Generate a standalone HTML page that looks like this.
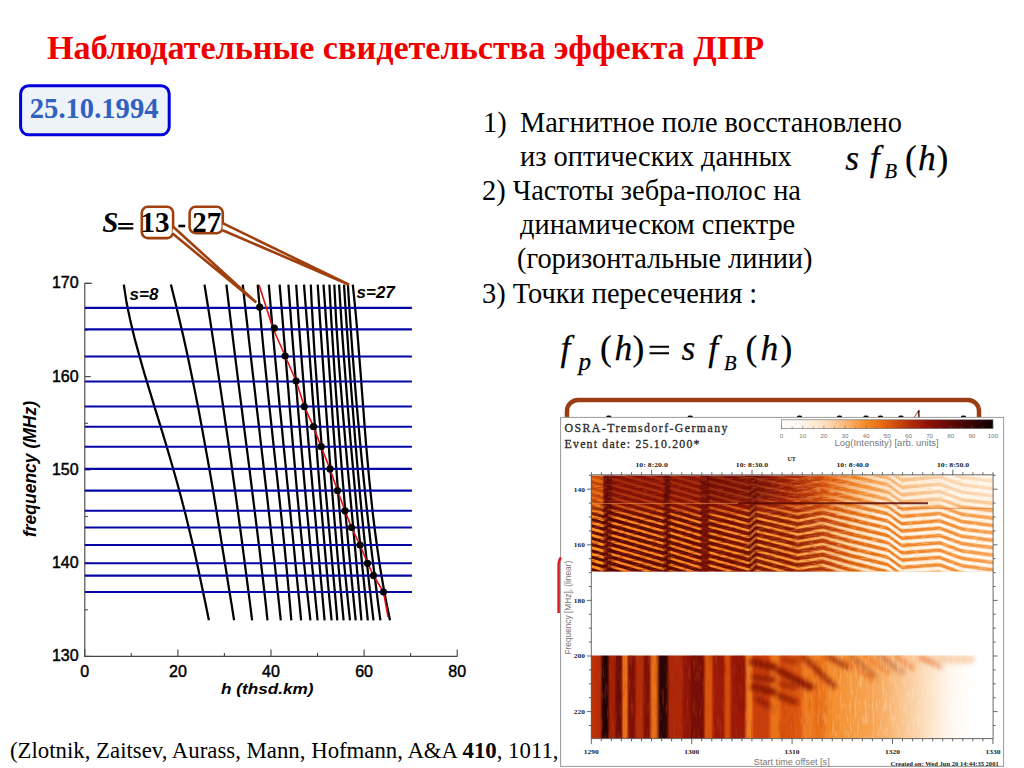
<!DOCTYPE html><html><head><meta charset="utf-8"><style>html,body{margin:0;padding:0;background:#fff;width:1024px;height:768px;overflow:hidden}svg{display:block}</style></head><body>
<svg width="1024" height="768" viewBox="0 0 1024 768">
<text x="47" y="58.7" font-family="Liberation Serif" font-weight="bold" font-size="34.17" fill="#ee0000">Наблюдательные свидетельства эффекта ДПР</text>
<rect x="20.6" y="85.8" width="148.6" height="49" rx="8" fill="#eef3fa" stroke="#0000dd" stroke-width="3"/>
<text x="29.8" y="118.4" font-family="Liberation Serif" font-weight="bold" font-size="28.6" fill="#3060c0">25.10.1994</text>
<text x="483" y="131.8" font-family="Liberation Serif" font-size="28.4" fill="#000">1)</text>
<text x="520" y="131.8" font-family="Liberation Serif" font-size="28.4" fill="#000">Магнитное поле восстановлено</text>
<text x="520" y="166" font-family="Liberation Serif" font-size="28.4" fill="#000">из оптических данных</text>
<text x="482" y="200.2" font-family="Liberation Serif" font-size="28.4" fill="#000">2) Частоты зебра-полос на</text>
<text x="520" y="234" font-family="Liberation Serif" font-size="28.4" fill="#000">динамическом спектре</text>
<text x="517" y="268.3" font-family="Liberation Serif" font-size="28.4" fill="#000">(горизонтальные линии)</text>
<text x="482" y="302.5" font-family="Liberation Serif" font-size="28.4" fill="#000">3) Точки пересечения :</text>
<text x="845.3" y="169.8" font-family="Liberation Serif" font-style="italic" fill="#000" stroke="#000" stroke-width="0.25" font-size="35.5">s</text>
<text x="869.7" y="169.8" font-family="Liberation Serif" font-style="italic" fill="#000" stroke="#000" stroke-width="0.25" font-size="35.5">f</text>
<text x="884.5" y="178.2" font-family="Liberation Serif" font-style="italic" fill="#000" stroke="#000" stroke-width="0.25" font-size="20.5">B</text>
<text x="904.9" y="169.8" font-family="Liberation Serif" fill="#000" stroke="#000" stroke-width="0.2" font-size="35.5">(</text>
<text x="917.9" y="169.8" font-family="Liberation Serif" font-style="italic" fill="#000" stroke="#000" stroke-width="0.25" font-size="35.5">h</text>
<text x="936.5" y="169.8" font-family="Liberation Serif" fill="#000" stroke="#000" stroke-width="0.2" font-size="35.5">)</text>
<text x="560.5" y="360" font-family="Liberation Serif" font-style="italic" fill="#000" stroke="#000" stroke-width="0.25" font-size="35.5">f</text>
<text x="578.4" y="370.3" font-family="Liberation Serif" font-style="italic" fill="#000" stroke="#000" stroke-width="0.25" font-size="25">p</text>
<text x="600" y="360" font-family="Liberation Serif" fill="#000" stroke="#000" stroke-width="0.2" font-size="35.5">(</text>
<text x="614.4" y="360" font-family="Liberation Serif" font-style="italic" fill="#000" stroke="#000" stroke-width="0.25" font-size="35.5">h</text>
<text x="632.6" y="360" font-family="Liberation Serif" fill="#000" stroke="#000" stroke-width="0.2" font-size="35.5">)</text>
<path d="M649.6 346.8H669M649.6 353.2H669" stroke="#000" stroke-width="2"/>
<text x="681.4" y="359.7" font-family="Liberation Serif" font-style="italic" fill="#000" stroke="#000" stroke-width="0.25" font-size="35.5">s</text>
<text x="708.3" y="360" font-family="Liberation Serif" font-style="italic" fill="#000" stroke="#000" stroke-width="0.25" font-size="35.5">f</text>
<text x="724" y="370" font-family="Liberation Serif" font-style="italic" fill="#000" stroke="#000" stroke-width="0.25" font-size="20.5">B</text>
<text x="745.5" y="360" font-family="Liberation Serif" fill="#000" stroke="#000" stroke-width="0.2" font-size="35.5">(</text>
<text x="760.5" y="360" font-family="Liberation Serif" font-style="italic" fill="#000" stroke="#000" stroke-width="0.25" font-size="35.5">h</text>
<text x="780.5" y="360" font-family="Liberation Serif" fill="#000" stroke="#000" stroke-width="0.2" font-size="35.5">)</text>
<text x="10" y="757.5" font-family="Liberation Serif" font-size="22.8" fill="#000">(Zlotnik, Zaitsev, Aurass, Mann, Hofmann, A&amp;A <tspan font-weight="bold">410</tspan>, 1011,</text>
<g stroke="#444" stroke-width="1.1" fill="none">
<path d="M91.8,283.4 H84.8 V656.4 H457.3"/>
<path d="M84.8,656.4 h6"/>
<path d="M84.8,609.8 h3"/>
<path d="M84.8,563.1 h6"/>
<path d="M84.8,516.5 h3"/>
<path d="M84.8,469.9 h6"/>
<path d="M84.8,423.3 h3"/>
<path d="M84.8,376.6 h6"/>
<path d="M84.8,330.0 h3"/>
<path d="M84.8,283.4 h6"/>
<path d="M84.8,656.4 v-7"/>
<path d="M131.3,656.4 v-3.5"/>
<path d="M177.9,656.4 v-7"/>
<path d="M224.4,656.4 v-3.5"/>
<path d="M271.0,656.4 v-7"/>
<path d="M317.5,656.4 v-3.5"/>
<path d="M364.1,656.4 v-7"/>
<path d="M410.6,656.4 v-3.5"/>
<path d="M457.2,656.4 v-7"/>
</g>
<text x="78.6" y="661.4" text-anchor="end" font-family="Liberation Sans" font-size="16" fill="#000" stroke="#000" stroke-width="0.45">130</text>
<text x="78.6" y="568.1" text-anchor="end" font-family="Liberation Sans" font-size="16" fill="#000" stroke="#000" stroke-width="0.45">140</text>
<text x="78.6" y="474.9" text-anchor="end" font-family="Liberation Sans" font-size="16" fill="#000" stroke="#000" stroke-width="0.45">150</text>
<text x="78.6" y="381.6" text-anchor="end" font-family="Liberation Sans" font-size="16" fill="#000" stroke="#000" stroke-width="0.45">160</text>
<text x="78.6" y="288.4" text-anchor="end" font-family="Liberation Sans" font-size="16" fill="#000" stroke="#000" stroke-width="0.45">170</text>
<text x="84.8" y="676.6" text-anchor="middle" font-family="Liberation Sans" font-size="16" fill="#000" stroke="#000" stroke-width="0.45">0</text>
<text x="177.9" y="676.6" text-anchor="middle" font-family="Liberation Sans" font-size="16" fill="#000" stroke="#000" stroke-width="0.45">20</text>
<text x="271.0" y="676.6" text-anchor="middle" font-family="Liberation Sans" font-size="16" fill="#000" stroke="#000" stroke-width="0.45">40</text>
<text x="364.1" y="676.6" text-anchor="middle" font-family="Liberation Sans" font-size="16" fill="#000" stroke="#000" stroke-width="0.45">60</text>
<text x="457.2" y="676.6" text-anchor="middle" font-family="Liberation Sans" font-size="16" fill="#000" stroke="#000" stroke-width="0.45">80</text>
<text x="221" y="694" textLength="92.5" lengthAdjust="spacingAndGlyphs" font-family="Liberation Sans" font-weight="bold" font-style="italic" font-size="15.5" fill="#000">h (thsd.km)</text>
<text transform="translate(35.5,469) rotate(-90)" x="0" y="0" text-anchor="middle" font-family="Liberation Sans" font-weight="bold" font-style="italic" font-size="17.5" fill="#000">frequency (MHz)</text>
<g stroke="#000" stroke-width="2.25" fill="none" stroke-linecap="butt">
<path d="M123.8,284.6 L126.5,302.3 L130.2,319.9 L134.4,337.6 L139.2,355.3 L144.2,372.9 L149.6,390.6 L155.0,408.3 L160.4,425.9 L165.8,443.6 L171.0,461.3 L176.1,479.0 L180.9,496.6 L185.5,514.3 L189.8,532.0 L194.0,549.6 L197.9,567.3 L201.6,585.0 L205.3,602.6 L208.9,620.3"/>
<path d="M170.9,284.6 L175.3,302.3 L179.5,319.9 L183.6,337.6 L187.5,355.3 L191.2,372.9 L194.8,390.6 L198.3,408.3 L201.6,425.9 L204.8,443.6 L208.0,461.3 L211.1,479.0 L214.1,496.6 L217.0,514.3 L219.9,532.0 L222.7,549.6 L225.6,567.3 L228.4,585.0 L231.3,602.6 L234.1,620.3"/>
<path d="M204.5,284.6 L207.3,302.3 L210.1,319.9 L212.8,337.6 L215.5,355.3 L218.1,372.9 L220.8,390.6 L223.4,408.3 L225.9,425.9 L228.5,443.6 L231.0,461.3 L233.4,479.0 L235.9,496.6 L238.3,514.3 L240.7,532.0 L243.0,549.6 L245.3,567.3 L247.6,585.0 L249.9,602.6 L252.1,620.3"/>
<path d="M226.4,284.6 L228.5,302.3 L230.6,319.9 L232.8,337.6 L235.0,355.3 L237.2,372.9 L239.4,390.6 L241.7,408.3 L243.9,425.9 L246.2,443.6 L248.5,461.3 L250.7,479.0 L252.9,496.6 L255.1,514.3 L257.3,532.0 L259.5,549.6 L261.5,567.3 L263.6,585.0 L265.6,602.6 L267.5,620.3"/>
<path d="M242.8,284.6 L244.7,302.3 L246.7,319.9 L248.7,337.6 L250.7,355.3 L252.7,372.9 L254.8,390.6 L256.8,408.3 L258.9,425.9 L260.9,443.6 L263.0,461.3 L265.0,479.0 L267.1,496.6 L269.1,514.3 L271.1,532.0 L273.1,549.6 L275.1,567.3 L277.0,585.0 L278.9,602.6 L280.8,620.3"/>
<path d="M257.7,284.6 L259.2,302.3 L260.7,319.9 L262.4,337.6 L264.1,355.3 L265.9,372.9 L267.7,390.6 L269.6,408.3 L271.5,425.9 L273.4,443.6 L275.3,461.3 L277.3,479.0 L279.2,496.6 L281.1,514.3 L283.0,532.0 L284.8,549.6 L286.5,567.3 L288.2,585.0 L289.8,602.6 L291.3,620.3"/>
<path d="M268.8,284.6 L270.3,302.3 L271.8,319.9 L273.3,337.6 L274.9,355.3 L276.6,372.9 L278.2,390.6 L279.9,408.3 L281.7,425.9 L283.4,443.6 L285.2,461.3 L286.9,479.0 L288.7,496.6 L290.5,514.3 L292.3,532.0 L294.1,549.6 L295.8,567.3 L297.6,585.0 L299.4,602.6 L301.1,620.3"/>
<path d="M279.6,284.6 L281.1,302.3 L282.6,319.9 L284.0,337.6 L285.5,355.3 L286.9,372.9 L288.4,390.6 L289.8,408.3 L291.3,425.9 L292.8,443.6 L294.4,461.3 L295.9,479.0 L297.5,496.6 L299.2,514.3 L300.9,532.0 L302.7,549.6 L304.5,567.3 L306.4,585.0 L308.4,602.6 L310.4,620.3"/>
<path d="M288.4,284.6 L289.7,302.3 L291.0,319.9 L292.4,337.6 L293.8,355.3 L295.2,372.9 L296.6,390.6 L298.0,408.3 L299.5,425.9 L301.0,443.6 L302.6,461.3 L304.1,479.0 L305.7,496.6 L307.3,514.3 L309.0,532.0 L310.6,549.6 L312.3,567.3 L314.1,585.0 L315.8,602.6 L317.6,620.3"/>
<path d="M296.2,284.6 L297.4,302.3 L298.6,319.9 L299.9,337.6 L301.3,355.3 L302.7,372.9 L304.1,390.6 L305.6,408.3 L307.1,425.9 L308.6,443.6 L310.2,461.3 L311.8,479.0 L313.4,496.6 L315.0,514.3 L316.6,532.0 L318.2,549.6 L319.8,567.3 L321.4,585.0 L323.0,602.6 L324.6,620.3"/>
<path d="M304.0,284.6 L305.4,302.3 L306.8,319.9 L308.2,337.6 L309.6,355.3 L310.9,372.9 L312.2,390.6 L313.6,408.3 L314.9,425.9 L316.3,443.6 L317.6,461.3 L319.0,479.0 L320.4,496.6 L321.9,514.3 L323.4,532.0 L324.9,549.6 L326.5,567.3 L328.1,585.0 L329.8,602.6 L331.6,620.3"/>
<path d="M310.8,284.6 L311.6,302.3 L312.6,319.9 L313.6,337.6 L314.7,355.3 L316.0,372.9 L317.3,390.6 L318.6,408.3 L320.1,425.9 L321.5,443.6 L323.1,461.3 L324.6,479.0 L326.2,496.6 L327.8,514.3 L329.4,532.0 L331.0,549.6 L332.6,567.3 L334.2,585.0 L335.8,602.6 L337.3,620.3"/>
<path d="M317.7,284.6 L318.9,302.3 L320.0,319.9 L321.2,337.6 L322.4,355.3 L323.6,372.9 L324.8,390.6 L326.0,408.3 L327.3,425.9 L328.6,443.6 L329.9,461.3 L331.2,479.0 L332.6,496.6 L334.0,514.3 L335.5,532.0 L337.0,549.6 L338.6,567.3 L340.2,585.0 L341.9,602.6 L343.6,620.3"/>
<path d="M323.5,284.6 L324.8,302.3 L326.0,319.9 L327.2,337.6 L328.4,355.3 L329.6,372.9 L330.8,390.6 L332.0,408.3 L333.2,425.9 L334.5,443.6 L335.8,461.3 L337.1,479.0 L338.4,496.6 L339.9,514.3 L341.4,532.0 L342.9,549.6 L344.5,567.3 L346.3,585.0 L348.1,602.6 L350.0,620.3"/>
<path d="M329.4,284.6 L330.3,302.3 L331.3,319.9 L332.4,337.6 L333.5,355.3 L334.6,372.9 L335.8,390.6 L337.1,408.3 L338.4,425.9 L339.8,443.6 L341.2,461.3 L342.6,479.0 L344.1,496.6 L345.6,514.3 L347.2,532.0 L348.8,549.6 L350.5,567.3 L352.2,585.0 L353.9,602.6 L355.7,620.3"/>
<path d="M334.3,284.6 L335.2,302.3 L336.1,319.9 L337.2,337.6 L338.4,355.3 L339.7,372.9 L341.1,390.6 L342.5,408.3 L344.0,425.9 L345.5,443.6 L347.1,461.3 L348.7,479.0 L350.3,496.6 L352.0,514.3 L353.6,532.0 L355.2,549.6 L356.8,567.3 L358.4,585.0 L359.9,602.6 L361.4,620.3"/>
<path d="M339.1,284.6 L340.2,302.3 L341.3,319.9 L342.5,337.6 L343.8,355.3 L345.1,372.9 L346.5,390.6 L347.9,408.3 L349.3,425.9 L350.8,443.6 L352.4,461.3 L354.0,479.0 L355.6,496.6 L357.2,514.3 L358.9,532.0 L360.7,549.6 L362.4,567.3 L364.2,585.0 L366.0,602.6 L367.8,620.3"/>
<path d="M344.0,284.6 L345.1,302.3 L346.3,319.9 L347.5,337.6 L348.7,355.3 L350.0,372.9 L351.3,390.6 L352.7,408.3 L354.1,425.9 L355.5,443.6 L357.0,461.3 L358.6,479.0 L360.2,496.6 L361.9,514.3 L363.7,532.0 L365.5,549.6 L367.4,567.3 L369.3,585.0 L371.4,602.6 L373.5,620.3"/>
<path d="M347.9,284.6 L349.0,302.3 L350.2,319.9 L351.4,337.6 L352.7,355.3 L354.1,372.9 L355.5,390.6 L357.0,408.3 L358.6,425.9 L360.2,443.6 L361.9,461.3 L363.7,479.0 L365.5,496.6 L367.4,514.3 L369.4,532.0 L371.4,549.6 L373.6,567.3 L375.8,585.0 L378.0,602.6 L380.4,620.3"/>
<path d="M352.8,284.6 L354.6,302.3 L356.3,319.9 L357.8,337.6 L359.2,355.3 L360.6,372.9 L361.9,390.6 L363.3,408.3 L364.6,425.9 L366.0,443.6 L367.6,461.3 L369.2,479.0 L371.0,496.6 L372.9,514.3 L375.1,532.0 L377.5,549.6 L380.1,567.3 L383.1,585.0 L386.4,602.6 L390.0,620.3"/>
</g>
<g stroke="#0606a6" stroke-width="2.1">
<path d="M84.8,307.9 H411.9"/>
<path d="M84.8,329.4 H411.9"/>
<path d="M84.8,356.5 H411.9"/>
<path d="M84.8,381.5 H411.9"/>
<path d="M84.8,406.5 H411.9"/>
<path d="M84.8,426.7 H411.9"/>
<path d="M84.8,446.7 H411.9"/>
<path d="M84.8,468.9 H411.9"/>
<path d="M84.8,490.6 H411.9"/>
<path d="M84.8,510.8 H411.9"/>
<path d="M84.8,527.5 H411.9"/>
<path d="M84.8,545 H411.9"/>
<path d="M84.8,563.3 H411.9"/>
<path d="M84.8,575.6 H411.9"/>
<path d="M84.8,592 H411.9"/>
</g>
<path d="M259.1,284.9 L272.8,328 L285.2,356 L296.1,381 L304.4,406.6 L313.5,426.6 L321,446.6 L330,469 L337.5,490.4 L345,510.6 L351.5,527.5 L360,545 L367.5,563 L373.5,575.5 L383.5,592 L388,617" stroke="#e01010" stroke-width="1.6" fill="none"/>
<g fill="#000">
<circle cx="259.7" cy="307.2" r="3.6"/>
<circle cx="274.3" cy="328.1" r="3.6"/>
<circle cx="285.2" cy="356" r="3.6"/>
<circle cx="296.1" cy="381" r="3.6"/>
<circle cx="304.3" cy="406.6" r="3.6"/>
<circle cx="313.5" cy="426.7" r="3.6"/>
<circle cx="321.2" cy="446.7" r="3.6"/>
<circle cx="330" cy="468.9" r="3.6"/>
<circle cx="337.5" cy="490.6" r="3.6"/>
<circle cx="345" cy="510.8" r="3.6"/>
<circle cx="351.5" cy="527.5" r="3.6"/>
<circle cx="360" cy="545" r="3.6"/>
<circle cx="367.5" cy="563.3" r="3.6"/>
<circle cx="373.5" cy="575.6" r="3.6"/>
<circle cx="383.5" cy="592" r="3.6"/>
</g>
<text x="129.5" y="299.5" font-family="Liberation Sans" font-weight="bold" font-style="italic" font-size="17" fill="#000">s=8</text>
<text x="356.5" y="297.5" font-family="Liberation Sans" font-weight="bold" font-style="italic" font-size="17" fill="#000">s=27</text>
<text x="102.2" y="231.8" font-family="Liberation Serif" font-weight="bold" font-style="italic" font-size="29" fill="#000">S</text>
<path d="M118.2 224H133.3M118.2 228.4H133.3" stroke="#000" stroke-width="2.2"/>
<path d="M178.4 226H185.2" stroke="#000" stroke-width="2.6"/>
<rect x="141.8" y="206.8" width="31.3" height="31.3" rx="6" fill="#fff" stroke="#a0400f" stroke-width="2.6"/>
<rect x="189.6" y="206.8" width="33.2" height="26.4" rx="6" fill="#fff" stroke="#a0400f" stroke-width="2.6"/>
<text x="140.6" y="231.8" font-family="Liberation Serif" font-weight="bold" font-size="29" fill="#000">13</text>
<text x="192.2" y="231.8" font-family="Liberation Serif" font-weight="bold" font-size="29" fill="#000">27</text>
<path d="M173.1,226.7 L256.2,302.4 L172.3,233.3" fill="#fff" stroke="#a0400f" stroke-width="2.6" stroke-linejoin="miter"/>
<path d="M222.6,223.2 L349.2,284.7 L222.6,230.2" fill="#fff" stroke="#a0400f" stroke-width="2.6" stroke-linejoin="miter"/>
<path d="M567,417 V411 a11,11 0 0 1 11,-11 H968 a11,11 0 0 1 11,11 V417" fill="none" stroke="#9b3d12" stroke-width="4.5"/>
<g fill="#000"><ellipse cx="608.8" cy="416.6" rx="2.6" ry="1.2"/><ellipse cx="690.2" cy="416.6" rx="2.6" ry="1.2"/><ellipse cx="799.5" cy="416.6" rx="2.6" ry="1.2"/><ellipse cx="839.5" cy="416.6" rx="2.6" ry="1.2"/><ellipse cx="866.0" cy="416.6" rx="2.6" ry="1.2"/><ellipse cx="880.5" cy="416.6" rx="2.6" ry="1.2"/><ellipse cx="901.0" cy="416.6" rx="2.6" ry="1.2"/><ellipse cx="963.5" cy="416.6" rx="2.6" ry="1.2"/></g>
<text x="913.5" y="420" font-family="Liberation Serif" font-size="15" fill="#000">4</text>
<rect x="560.6" y="417.4" width="443" height="349" fill="#fff" stroke="#999" stroke-width="1"/>
<path d="M561 557.5 Q558.6 560 558.6 566 V612.9" stroke="#e02020" stroke-width="2.6" fill="none"/>
<defs><linearGradient id="tlo" gradientUnits="userSpaceOnUse" x1="591.3" y1="0" x2="993.0" y2="0"><stop offset="0.0000" stop-color="#e96f16"/><stop offset="0.0266" stop-color="#e96f16"/><stop offset="0.0341" stop-color="#7a0f06"/><stop offset="0.0515" stop-color="#7a0f06"/><stop offset="0.0615" stop-color="#a42007"/><stop offset="0.1113" stop-color="#a42007"/><stop offset="0.1212" stop-color="#961606"/><stop offset="0.1312" stop-color="#a42007"/><stop offset="0.1760" stop-color="#9f1c06"/><stop offset="0.1884" stop-color="#710c06"/><stop offset="0.2009" stop-color="#9f1c06"/><stop offset="0.2706" stop-color="#9f1c06"/><stop offset="0.2830" stop-color="#8d1406"/><stop offset="0.3005" stop-color="#9f1c06"/><stop offset="0.3826" stop-color="#9f1c06"/><stop offset="0.4000" stop-color="#8d1406"/><stop offset="0.4200" stop-color="#a82307"/><stop offset="0.5195" stop-color="#ca3f09"/><stop offset="0.5693" stop-color="#de590d"/><stop offset="0.6440" stop-color="#f18423"/><stop offset="0.7187" stop-color="#f7a758"/><stop offset="0.8183" stop-color="#fac086"/><stop offset="1.0000" stop-color="#fbcfa2"/></linearGradient><linearGradient id="thi" gradientUnits="userSpaceOnUse" x1="591.3" y1="0" x2="993.0" y2="0"><stop offset="0.0000" stop-color="#e4620e"/><stop offset="0.0266" stop-color="#e4620e"/><stop offset="0.0341" stop-color="#7a0f06"/><stop offset="0.0515" stop-color="#7a0f06"/><stop offset="0.0615" stop-color="#911506"/><stop offset="0.1760" stop-color="#911506"/><stop offset="0.1884" stop-color="#710c06"/><stop offset="0.2009" stop-color="#911506"/><stop offset="0.2706" stop-color="#911506"/><stop offset="0.2955" stop-color="#7a0f06"/><stop offset="0.4200" stop-color="#7a0f06"/><stop offset="0.4946" stop-color="#a82307"/><stop offset="0.5942" stop-color="#e4620e"/><stop offset="0.6689" stop-color="#f59538"/><stop offset="0.7685" stop-color="#facc9b"/><stop offset="0.8930" stop-color="#fde8d0"/><stop offset="1.0000" stop-color="#fef1e3"/></linearGradient><linearGradient id="tmid" gradientUnits="userSpaceOnUse" x1="591.3" y1="0" x2="993.0" y2="0"><stop offset="0.0000" stop-color="#e66812"/><stop offset="0.0266" stop-color="#e66812"/><stop offset="0.0341" stop-color="#7a0f06"/><stop offset="0.0515" stop-color="#7a0f06"/><stop offset="0.0615" stop-color="#9b1906"/><stop offset="0.1113" stop-color="#9b1906"/><stop offset="0.1212" stop-color="#941506"/><stop offset="0.1312" stop-color="#9b1906"/><stop offset="0.1760" stop-color="#981806"/><stop offset="0.1884" stop-color="#710c06"/><stop offset="0.2009" stop-color="#981806"/><stop offset="0.2706" stop-color="#981806"/><stop offset="0.2830" stop-color="#891306"/><stop offset="0.3005" stop-color="#8d1406"/><stop offset="0.3826" stop-color="#8d1406"/><stop offset="0.4000" stop-color="#841106"/><stop offset="0.4200" stop-color="#911506"/><stop offset="0.5195" stop-color="#c43608"/><stop offset="0.5693" stop-color="#da550c"/><stop offset="0.6440" stop-color="#f18423"/><stop offset="0.7187" stop-color="#f8ad62"/><stop offset="0.8183" stop-color="#fbcd9d"/><stop offset="1.0000" stop-color="#fce3c7"/></linearGradient><linearGradient id="bot" gradientUnits="userSpaceOnUse" x1="591.3" y1="0" x2="993.0" y2="0"><stop offset="0.0000" stop-color="#bf3308"/><stop offset="0.0217" stop-color="#b62c07"/><stop offset="0.0291" stop-color="#250202"/><stop offset="0.0391" stop-color="#250202"/><stop offset="0.0466" stop-color="#a42007"/><stop offset="0.0565" stop-color="#a42007"/><stop offset="0.0640" stop-color="#6d0b06"/><stop offset="0.0739" stop-color="#6d0b06"/><stop offset="0.0802" stop-color="#e96f16"/><stop offset="0.0876" stop-color="#e96f16"/><stop offset="0.0939" stop-color="#7f1006"/><stop offset="0.1063" stop-color="#7f1006"/><stop offset="0.1138" stop-color="#b62c07"/><stop offset="0.1262" stop-color="#b62c07"/><stop offset="0.1337" stop-color="#7f1006"/><stop offset="0.1436" stop-color="#7f1006"/><stop offset="0.1511" stop-color="#e96f16"/><stop offset="0.1611" stop-color="#e96f16"/><stop offset="0.1710" stop-color="#2d0303"/><stop offset="0.1860" stop-color="#2d0303"/><stop offset="0.1959" stop-color="#ad2607"/><stop offset="0.2233" stop-color="#ad2607"/><stop offset="0.2308" stop-color="#911506"/><stop offset="0.2432" stop-color="#911506"/><stop offset="0.2507" stop-color="#760e06"/><stop offset="0.2781" stop-color="#760e06"/><stop offset="0.2855" stop-color="#da550c"/><stop offset="0.2980" stop-color="#da550c"/><stop offset="0.3055" stop-color="#9b1906"/><stop offset="0.3279" stop-color="#9b1906"/><stop offset="0.3353" stop-color="#d44c0b"/><stop offset="0.3428" stop-color="#d44c0b"/><stop offset="0.3503" stop-color="#9b1906"/><stop offset="0.3801" stop-color="#9b1906"/><stop offset="0.3876" stop-color="#ee7b1e"/><stop offset="0.3976" stop-color="#ee7b1e"/><stop offset="0.4050" stop-color="#ca3f09"/><stop offset="0.4399" stop-color="#ca3f09"/><stop offset="0.4498" stop-color="#ea7318"/><stop offset="0.4648" stop-color="#ea7318"/><stop offset="0.4747" stop-color="#d7500c"/><stop offset="0.5195" stop-color="#de590d"/><stop offset="0.5295" stop-color="#ee7b1e"/><stop offset="0.5494" stop-color="#ee7b1e"/><stop offset="0.5594" stop-color="#e96f16"/><stop offset="0.5743" stop-color="#ea7318"/><stop offset="0.5942" stop-color="#f48c28"/><stop offset="0.6440" stop-color="#f69a40"/><stop offset="0.6938" stop-color="#f6a250"/><stop offset="0.7311" stop-color="#f8b068"/><stop offset="0.7809" stop-color="#fac894"/><stop offset="0.8307" stop-color="#fcdebe"/><stop offset="0.8681" stop-color="#fdefde"/><stop offset="0.8979" stop-color="#fef9f2"/><stop offset="0.9228" stop-color="#fffcf9"/><stop offset="0.9427" stop-color="#ffffff"/><stop offset="1.0000" stop-color="#ffffff"/></linearGradient><linearGradient id="sdark" gradientUnits="userSpaceOnUse" x1="591.3" y1="0" x2="993.0" y2="0"><stop offset="-0.0007" stop-color="#4a0604"/><stop offset="0.2706" stop-color="#5a0a04"/><stop offset="0.4946" stop-color="#7a1806"/><stop offset="0.5942" stop-color="#b83e0a"/><stop offset="0.6689" stop-color="#e06a14"/><stop offset="0.7685" stop-color="#ec7c22"/><stop offset="0.8930" stop-color="#f08a30"/><stop offset="1.0000" stop-color="#f49a48"/></linearGradient><linearGradient id="sbright" gradientUnits="userSpaceOnUse" x1="591.3" y1="0" x2="993.0" y2="0"><stop offset="-0.0007" stop-color="#ff9424"/><stop offset="0.2706" stop-color="#ff9424"/><stop offset="0.4946" stop-color="#fca038"/><stop offset="0.5942" stop-color="#fcc080"/><stop offset="0.6689" stop-color="#fde0c0"/><stop offset="0.7685" stop-color="#fff2e6"/><stop offset="0.8930" stop-color="#fffcf8"/><stop offset="1.0000" stop-color="#ffffff"/></linearGradient><filter id="nzd" x="0" y="0" width="100%" height="100%" filterUnits="userSpaceOnUse"><feTurbulence type="fractalNoise" baseFrequency="0.12 0.55" numOctaves="2" seed="5"/><feColorMatrix type="matrix" values="0 0 0 0 0.35  0 0 0 0 0.03  0 0 0 0 0.01  4 0 0 0 -2.0"/></filter><filter id="nzl" x="0" y="0" width="100%" height="100%" filterUnits="userSpaceOnUse"><feTurbulence type="fractalNoise" baseFrequency="0.14 0.6" numOctaves="2" seed="11"/><feColorMatrix type="matrix" values="0 0 0 0 1  0 0 0 0 0.65  0 0 0 0 0.3  4 0 0 0 -2.0"/></filter><filter id="nzb" x="0" y="0" width="100%" height="100%" filterUnits="userSpaceOnUse"><feTurbulence type="fractalNoise" baseFrequency="0.45 0.06" numOctaves="2" seed="21"/><feColorMatrix type="matrix" values="0 0 0 0 0.45  0 0 0 0 0.05  0 0 0 0 0.02  4 0 0 0 -2.1"/></filter><filter id="nzbl" x="0" y="0" width="100%" height="100%" filterUnits="userSpaceOnUse"><feTurbulence type="fractalNoise" baseFrequency="0.4 0.08" numOctaves="2" seed="33"/><feColorMatrix type="matrix" values="0 0 0 0 1  0 0 0 0 0.85  0 0 0 0 0.7  4 0 0 0 -2.0"/></filter><linearGradient id="nzmb" gradientUnits="userSpaceOnUse" x1="591.3" y1="0" x2="993.0" y2="0"><stop offset="-0.0007" stop-color="#fff"/><stop offset="0.4698" stop-color="#fff"/><stop offset="0.6689" stop-color="#000"/><stop offset="1.0000" stop-color="#000"/></linearGradient><linearGradient id="nzmbl" gradientUnits="userSpaceOnUse" x1="591.3" y1="0" x2="993.0" y2="0"><stop offset="-0.0007" stop-color="#000"/><stop offset="0.4698" stop-color="#000"/><stop offset="0.6689" stop-color="#fff"/><stop offset="0.9178" stop-color="#fff"/><stop offset="0.9676" stop-color="#000"/><stop offset="1.0000" stop-color="#000"/></linearGradient><mask id="mnzb" maskUnits="userSpaceOnUse"><rect x="591.3" y="655.5" width="401.7" height="82.8" fill="url(#nzmb)"/></mask><mask id="mnzbl" maskUnits="userSpaceOnUse"><rect x="591.3" y="655.5" width="401.7" height="82.8" fill="url(#nzmbl)"/></mask><linearGradient id="nzmd" gradientUnits="userSpaceOnUse" x1="591.3" y1="0" x2="993.0" y2="0"><stop offset="-0.0007" stop-color="#fff"/><stop offset="0.4200" stop-color="#fff"/><stop offset="0.7187" stop-color="#000"/><stop offset="1.0000" stop-color="#000"/></linearGradient><linearGradient id="nzml" gradientUnits="userSpaceOnUse" x1="591.3" y1="0" x2="993.0" y2="0"><stop offset="-0.0007" stop-color="#000"/><stop offset="0.3204" stop-color="#000"/><stop offset="0.5195" stop-color="#888"/><stop offset="0.7187" stop-color="#fff"/><stop offset="1.0000" stop-color="#fff"/></linearGradient><mask id="mnzd" maskUnits="userSpaceOnUse"><rect x="591.3" y="475.5" width="401.7" height="96.1" fill="url(#nzmd)"/></mask><mask id="mnzl" maskUnits="userSpaceOnUse"><rect x="591.3" y="475.5" width="401.7" height="96.1" fill="url(#nzml)"/></mask><clipPath id="ctop"><rect x="591.3" y="475.5" width="401.7" height="96.1"/></clipPath><clipPath id="cbot"><rect x="591.3" y="655.5" width="401.7" height="82.8"/></clipPath><linearGradient id="fadev" x1="0" y1="0" x2="0" y2="1"><stop offset="0" stop-color="#fff" stop-opacity="0.18"/><stop offset="0.28" stop-color="#fff" stop-opacity="0.3"/><stop offset="0.45" stop-color="#fff" stop-opacity="1"/><stop offset="1" stop-color="#fff" stop-opacity="1"/></linearGradient><linearGradient id="gwr" gradientUnits="userSpaceOnUse" x1="591.3" y1="0" x2="993.0" y2="0"><stop offset="-0.0007" stop-color="#000"/><stop offset="0.5693" stop-color="#000"/><stop offset="0.7187" stop-color="#fff"/><stop offset="1.0000" stop-color="#fff"/></linearGradient><mask id="mwr" maskUnits="userSpaceOnUse"><rect x="591.3" y="475.5" width="401.7" height="96.1" fill="url(#gwr)"/></mask><mask id="mtop"><rect x="591.3" y="475.5" width="401.7" height="96.1" fill="url(#fadev)"/></mask><filter id="bl" x="-5%" y="-5%" width="110%" height="110%"><feGaussianBlur stdDeviation="0.6"/></filter><filter id="bl2" x="-20%" y="-20%" width="140%" height="140%"><feGaussianBlur stdDeviation="1.9"/></filter></defs>
<rect x="591.3" y="475.5" width="401.7" height="24.5" fill="url(#thi)"/>
<rect x="591.3" y="500" width="401.7" height="6" fill="url(#tmid)"/>
<rect x="591.3" y="506" width="401.7" height="65.6" fill="url(#tlo)"/>
<g clip-path="url(#ctop)"><g mask="url(#mtop)" filter="url(#bl)" fill="none">
<path d="M590 431.8 592 432.1 594 432.6 596 433.1 598 433.7 600 434.2 602 434.7 604 435.2 606 433.3M608 430.6 610 431.2 612 431.7 614 432.2 616 432.7 618 433.2 620 433.8 622 434.3 624 434.8 626 435.3 628 435.8 630 436.3 632 436.9 634 437.4 636 437.9 638 438.4 640 438.9 642 439.5 644 440.0 646 440.5 648 441.0 650 441.5 652 442.0 654 442.6 656 443.1 658 443.6 660 444.1 662 444.6 664 445.2 666 443.6M668 440.8 670 440.3 672 440.8 674 441.4 676 441.9 678 442.5 680 443.1 682 443.6 684 444.2 686 444.7 688 445.3 690 445.9 692 446.4 694 447.0 696 447.5 698 448.1 700 448.7 702 448.6M704 445.4M706 442.2M708 439.5 710 440.0 712 440.5 714 441.0 716 441.4 718 441.9 720 442.4 722 442.9 724 443.4 726 443.8 728 444.3 730 444.8 732 445.3 734 445.7 736 446.2 738 446.7 740 447.2 742 447.7 744 448.1 746 448.6 748 449.1 750 449.2 752 446.9 754 444.6 756 442.8 758 443.1 760 443.4 762 443.7 764 444.0 766 444.3 768 444.6 770 444.9 772 445.2 774 445.5 776 445.8 778 446.1 780 446.4 782 446.7 784 447.0 786 447.3 788 447.6 790 447.9 792 448.2 794 448.5 796 448.8 798 449.0 800 448.4 802 447.9 804 447.4 806 446.8 808 446.3 810 445.8 812 445.3 814 444.7 816 444.2 818 443.7 820 443.1 822 442.6 824 442.7 826 443.0 828 443.4 830 443.7 832 444.1 834 444.5 836 444.8 838 445.2 840 445.6 842 445.9 844 446.3 846 446.7 848 447.0 850 447.4 852 447.8 854 448.3 856 448.7 858 449.2 860 449.6 862 450.0 864 450.5 866 450.9 868 451.4 870 451.8 872 452.3 874 452.7 876 453.1 878 453.6 880 454.0 882 454.5 884 454.9 886 455.4 888 455.9 890 457.3 892 458.8 894 460.2 896 461.6 898 463.0 900 464.4 902 465.6 904 465.4 906 465.2 908 465.0 910 464.9 912 464.7 914 464.5 916 464.3 918 464.1 920 464.0 922 463.8 924 463.6 926 463.4 928 463.3 930 463.1 932 462.9 934 462.7 936 462.5 938 462.4 940 462.3 942 463.0 944 463.7 946 464.4 948 465.2 950 465.9 952 466.6 954 467.3 956 468.0 958 468.7 960 469.4 962 470.0 964 470.3 966 470.5 968 470.8 970 471.0 972 471.2 974 471.5 976 471.7 978 471.9 980 472.2 982 472.4 984 472.7 986 472.9 988 473.1 990 473.4 992 473.6 994 473.7M590 438.0 592 438.3 594 438.9 596 439.4 598 439.9 600 440.4 602 441.0 604 441.5 606 439.6M608 436.9 610 437.4 612 438.0 614 438.5 616 439.0 618 439.5 620 440.0 622 440.6 624 441.1 626 441.6 628 442.1 630 442.7 632 443.2 634 443.7 636 444.2 638 444.7 640 445.3 642 445.8 644 446.3 646 446.8 648 447.3 650 447.9 652 448.4 654 448.9 656 449.4 658 450.0 660 450.5 662 451.0 664 451.5 666 449.9M668 447.2 670 446.6 672 447.2 674 447.8 676 448.3 678 448.9 680 449.4 682 450.0 684 450.6 686 451.1 688 451.7 690 452.3 692 452.8 694 453.4 696 453.9 698 454.5 700 455.1 702 455.1M704 451.9M706 448.6M708 446.0 710 446.4 712 446.9 714 447.4 716 447.9 718 448.4 720 448.9 722 449.3 724 449.8 726 450.3 728 450.8 730 451.3 732 451.7 734 452.2 736 452.7 738 453.2 740 453.7 742 454.1 744 454.6 746 455.1 748 455.6 750 455.7 752 453.4 754 451.2 756 449.3 758 449.6 760 449.9 762 450.2 764 450.6 766 450.9 768 451.2 770 451.5 772 451.8 774 452.1 776 452.5 778 452.8 780 453.1 782 453.4 784 453.7 786 454.0 788 454.4 790 454.7 792 455.0 794 455.3 796 455.6 798 455.8 800 455.3 802 454.8 804 454.3 806 453.7 808 453.2 810 452.7 812 452.2 814 451.7 816 451.2 818 450.6 820 450.1 822 449.6 824 449.7 826 450.1 828 450.4 830 450.8 832 451.2 834 451.6 836 451.9 838 452.3 840 452.7 842 453.1 844 453.5 846 453.8 848 454.2 850 454.6 852 455.0 854 455.5 856 455.9 858 456.4 860 456.8 862 457.3 864 457.7 866 458.2 868 458.6 870 459.0 872 459.5 874 459.9 876 460.4 878 460.8 880 461.3 882 461.7 884 462.2 886 462.6 888 463.2 890 464.6 892 466.0 894 467.4 896 468.8 898 470.3 900 471.7 902 472.8 904 472.7 906 472.5 908 472.3 910 472.1 912 472.0 914 471.8 916 471.6 918 471.4 920 471.3 922 471.1 924 470.9 926 470.7 928 470.6 930 470.4 932 470.2 934 470.0 936 469.9 938 469.7 940 469.7 942 470.4 944 471.1 946 471.8 948 472.5 950 473.2 952 473.9 954 474.6 956 475.3 958 476.0 960 476.8 962 477.4 964 477.6 966 477.9 968 478.1 970 478.4 972 478.6 974 478.8 976 479.1 978 479.3 980 479.6 982 479.8 984 480.1 986 480.3 988 480.5 990 480.8 992 481.0 994 481.1M590 444.2 592 444.6 594 445.1 596 445.6 598 446.2 600 446.7 602 447.2 604 447.8 606 445.8M608 443.2 610 443.7 612 444.2 614 444.8 616 445.3 618 445.8 620 446.3 622 446.9 624 447.4 626 447.9 628 448.4 630 449.0 632 449.5 634 450.0 636 450.5 638 451.1 640 451.6 642 452.1 644 452.6 646 453.2 648 453.7 650 454.2 652 454.7 654 455.3 656 455.8 658 456.3 660 456.8 662 457.4 664 457.9 666 456.3M668 453.6 670 453.0 672 453.6 674 454.1 676 454.7 678 455.3 680 455.8 682 456.4 684 457.0 686 457.5 688 458.1 690 458.7 692 459.2 694 459.8 696 460.4 698 460.9 700 461.5 702 461.5M704 458.3M706 455.1M708 452.4 710 452.9 712 453.4 714 453.9 716 454.3 718 454.8 720 455.3 722 455.8 724 456.3 726 456.8 728 457.2 730 457.7 732 458.2 734 458.7 736 459.2 738 459.7 740 460.2 742 460.6 744 461.1 746 461.6 748 462.1 750 462.2 752 459.9 754 457.7 756 455.8 758 456.2 760 456.5 762 456.8 764 457.2 766 457.5 768 457.8 770 458.1 772 458.5 774 458.8 776 459.1 778 459.5 780 459.8 782 460.1 784 460.5 786 460.8 788 461.1 790 461.4 792 461.8 794 462.1 796 462.4 798 462.6 800 462.1 802 461.6 804 461.1 806 460.6 808 460.1 810 459.6 812 459.1 814 458.6 816 458.1 818 457.6 820 457.1 822 456.6 824 456.7 826 457.1 828 457.5 830 457.9 832 458.3 834 458.7 836 459.0 838 459.4 840 459.8 842 460.2 844 460.6 846 461.0 848 461.4 850 461.8 852 462.2 854 462.7 856 463.1 858 463.6 860 464.0 862 464.5 864 464.9 866 465.4 868 465.8 870 466.3 872 466.7 874 467.2 876 467.6 878 468.1 880 468.5 882 469.0 884 469.4 886 469.9 888 470.4 890 471.9 892 473.3 894 474.7 896 476.1 898 477.5 900 478.9 902 480.1 904 479.9 906 479.8 908 479.6 910 479.4 912 479.3 914 479.1 916 478.9 918 478.7 920 478.6 922 478.4 924 478.2 926 478.0 928 477.9 930 477.7 932 477.5 934 477.4 936 477.2 938 477.0 940 477.0 942 477.7 944 478.4 946 479.1 948 479.8 950 480.5 952 481.3 954 482.0 956 482.7 958 483.4 960 484.1 962 484.8 964 485.0 966 485.2 968 485.5 970 485.7 972 486.0 974 486.2 976 486.5 978 486.7 980 487.0 982 487.2 984 487.4 986 487.7 988 487.9 990 488.2 992 488.4 994 488.5M590 450.5 592 450.8 594 451.4 596 451.9 598 452.4 600 453.0 602 453.5 604 454.0 606 452.1M608 449.5 610 450.0 612 450.5 614 451.1 616 451.6 618 452.1 620 452.6 622 453.2 624 453.7 626 454.2 628 454.7 630 455.3 632 455.8 634 456.3 636 456.9 638 457.4 640 457.9 642 458.4 644 459.0 646 459.5 648 460.0 650 460.6 652 461.1 654 461.6 656 462.1 658 462.7 660 463.2 662 463.7 664 464.2 666 462.7M668 460.0 670 459.4 672 459.9 674 460.5 676 461.1 678 461.7 680 462.2 682 462.8 684 463.4 686 463.9 688 464.5 690 465.1 692 465.6 694 466.2 696 466.8 698 467.3 700 467.9 702 467.9M704 464.7M706 461.5M708 458.8 710 459.3 712 459.8 714 460.3 716 460.8 718 461.3 720 461.8 722 462.2 724 462.7 726 463.2 728 463.7 730 464.2 732 464.7 734 465.2 736 465.7 738 466.1 740 466.6 742 467.1 744 467.6 746 468.1 748 468.6 750 468.7 752 466.4 754 464.2 756 462.4 758 462.7 760 463.1 762 463.4 764 463.8 766 464.1 768 464.4 770 464.8 772 465.1 774 465.5 776 465.8 778 466.2 780 466.5 782 466.9 784 467.2 786 467.5 788 467.9 790 468.2 792 468.6 794 468.9 796 469.3 798 469.5 800 469.0 802 468.5 804 468.0 806 467.5 808 467.0 810 466.6 812 466.1 814 465.6 816 465.1 818 464.6 820 464.1 822 463.6 824 463.7 826 464.1 828 464.5 830 464.9 832 465.3 834 465.7 836 466.2 838 466.6 840 467.0 842 467.4 844 467.8 846 468.2 848 468.6 850 469.0 852 469.4 854 469.9 856 470.3 858 470.8 860 471.3 862 471.7 864 472.2 866 472.6 868 473.1 870 473.5 872 474.0 874 474.4 876 474.9 878 475.3 880 475.8 882 476.2 884 476.7 886 477.1 888 477.7 890 479.1 892 480.5 894 482.0 896 483.4 898 484.8 900 486.2 902 487.4 904 487.2 906 487.0 908 486.9 910 486.7 912 486.5 914 486.4 916 486.2 918 486.0 920 485.9 922 485.7 924 485.5 926 485.4 928 485.2 930 485.0 932 484.8 934 484.7 936 484.5 938 484.3 940 484.3 942 485.0 944 485.7 946 486.5 948 487.2 950 487.9 952 488.6 954 489.3 956 490.0 958 490.7 960 491.5 962 492.1 964 492.4 966 492.6 968 492.9 970 493.1 972 493.3 974 493.6 976 493.8 978 494.1 980 494.3 982 494.6 984 494.8 986 495.1 988 495.3 990 495.6 992 495.8 994 495.9M590 456.8 592 457.1 594 457.6 596 458.2 598 458.7 600 459.2 602 459.8 604 460.3 606 458.4M608 455.7 610 456.3 612 456.8 614 457.3 616 457.9 618 458.4 620 458.9 622 459.5 624 460.0 626 460.5 628 461.1 630 461.6 632 462.1 634 462.7 636 463.2 638 463.7 640 464.2 642 464.8 644 465.3 646 465.8 648 466.4 650 466.9 652 467.4 654 468.0 656 468.5 658 469.0 660 469.6 662 470.1 664 470.6 666 469.0M668 466.3 670 465.8 672 466.3 674 466.9 676 467.5 678 468.0 680 468.6 682 469.2 684 469.8 686 470.3 688 470.9 690 471.5 692 472.1 694 472.6 696 473.2 698 473.8 700 474.3 702 474.3M704 471.1M706 467.9M708 465.3 710 465.8 712 466.3 714 466.7 716 467.2 718 467.7 720 468.2 722 468.7 724 469.2 726 469.7 728 470.2 730 470.7 732 471.2 734 471.6 736 472.1 738 472.6 740 473.1 742 473.6 744 474.1 746 474.6 748 475.1 750 475.2 752 473.0 754 470.8 756 468.9 758 469.3 760 469.6 762 470.0 764 470.4 766 470.7 768 471.1 770 471.4 772 471.8 774 472.1 776 472.5 778 472.9 780 473.2 782 473.6 784 473.9 786 474.3 788 474.7 790 475.0 792 475.4 794 475.7 796 476.1 798 476.3 800 475.8 802 475.4 804 474.9 806 474.4 808 474.0 810 473.5 812 473.0 814 472.5 816 472.1 818 471.6 820 471.1 822 470.6 824 470.7 826 471.2 828 471.6 830 472.0 832 472.4 834 472.8 836 473.3 838 473.7 840 474.1 842 474.5 844 474.9 846 475.4 848 475.8 850 476.2 852 476.7 854 477.1 856 477.6 858 478.0 860 478.5 862 478.9 864 479.4 866 479.8 868 480.3 870 480.7 872 481.2 874 481.6 876 482.1 878 482.5 880 483.0 882 483.4 884 483.9 886 484.4 888 485.0 890 486.4 892 487.8 894 489.2 896 490.6 898 492.1 900 493.5 902 494.7 904 494.5 906 494.3 908 494.2 910 494.0 912 493.8 914 493.7 916 493.5 918 493.3 920 493.2 922 493.0 924 492.8 926 492.7 928 492.5 930 492.3 932 492.2 934 492.0 936 491.8 938 491.7 940 491.6 942 492.3 944 493.1 946 493.8 948 494.5 950 495.2 952 495.9 954 496.7 956 497.4 958 498.1 960 498.8 962 499.5 964 499.7 966 500.0 968 500.2 970 500.5 972 500.7 974 501.0 976 501.2 978 501.5 980 501.7 982 502.0 984 502.2 986 502.5 988 502.7 990 503.0 992 503.2 994 503.3M590 463.0 592 463.3 594 463.9 596 464.4 598 465.0 600 465.5 602 466.0 604 466.6 606 464.7M608 462.0 610 462.6 612 463.1 614 463.6 616 464.2 618 464.7 620 465.2 622 465.8 624 466.3 626 466.8 628 467.4 630 467.9 632 468.4 634 469.0 636 469.5 638 470.0 640 470.6 642 471.1 644 471.6 646 472.2 648 472.7 650 473.2 652 473.8 654 474.3 656 474.8 658 475.4 660 475.9 662 476.4 664 477.0 666 475.4M668 472.7 670 472.1 672 472.7 674 473.3 676 473.9 678 474.4 680 475.0 682 475.6 684 476.2 686 476.7 688 477.3 690 477.9 692 478.5 694 479.0 696 479.6 698 480.2 700 480.8 702 480.8M704 477.6M706 474.4M708 471.7 710 472.2 712 472.7 714 473.2 716 473.7 718 474.2 720 474.7 722 475.2 724 475.7 726 476.1 728 476.6 730 477.1 732 477.6 734 478.1 736 478.6 738 479.1 740 479.6 742 480.1 744 480.6 746 481.1 748 481.6 750 481.7 752 479.5 754 477.3 756 475.5 758 475.8 760 476.2 762 476.6 764 477.0 766 477.3 768 477.7 770 478.1 772 478.4 774 478.8 776 479.2 778 479.6 780 479.9 782 480.3 784 480.7 786 481.1 788 481.4 790 481.8 792 482.2 794 482.5 796 482.9 798 483.2 800 482.7 802 482.2 804 481.8 806 481.3 808 480.9 810 480.4 812 479.9 814 479.5 816 479.0 818 478.6 820 478.1 822 477.6 824 477.8 826 478.2 828 478.6 830 479.1 832 479.5 834 479.9 836 480.4 838 480.8 840 481.2 842 481.7 844 482.1 846 482.5 848 483.0 850 483.4 852 483.9 854 484.3 856 484.8 858 485.2 860 485.7 862 486.1 864 486.6 866 487.0 868 487.5 870 488.0 872 488.4 874 488.9 876 489.3 878 489.8 880 490.2 882 490.7 884 491.2 886 491.6 888 492.2 890 493.6 892 495.1 894 496.5 896 497.9 898 499.3 900 500.7 902 501.9 904 501.8 906 501.6 908 501.4 910 501.3 912 501.1 914 500.9 916 500.8 918 500.6 920 500.5 922 500.3 924 500.1 926 500.0 928 499.8 930 499.6 932 499.5 934 499.3 936 499.2 938 499.0 940 499.0 942 499.7 944 500.4 946 501.1 948 501.8 950 502.6 952 503.3 954 504.0 956 504.7 958 505.5 960 506.2 962 506.8 964 507.1 966 507.3 968 507.6 970 507.8 972 508.1 974 508.3 976 508.6 978 508.8 980 509.1 982 509.3 984 509.6 986 509.9 988 510.1 990 510.4 992 510.6 994 510.7M590 469.2 592 469.6 594 470.1 596 470.7 598 471.2 600 471.8 602 472.3 604 472.8 606 470.9M608 468.3 610 468.8 612 469.4 614 469.9 616 470.5 618 471.0 620 471.5 622 472.1 624 472.6 626 473.1 628 473.7 630 474.2 632 474.8 634 475.3 636 475.8 638 476.4 640 476.9 642 477.4 644 478.0 646 478.5 648 479.0 650 479.6 652 480.1 654 480.7 656 481.2 658 481.7 660 482.3 662 482.8 664 483.3 666 481.8M668 479.1 670 478.5 672 479.1 674 479.7 676 480.2 678 480.8 680 481.4 682 482.0 684 482.6 686 483.1 688 483.7 690 484.3 692 484.9 694 485.4 696 486.0 698 486.6 700 487.2 702 487.2M704 484.0M706 480.8M708 478.1 710 478.6 712 479.1 714 479.6 716 480.1 718 480.6 720 481.1 722 481.6 724 482.1 726 482.6 728 483.1 730 483.6 732 484.1 734 484.6 736 485.1 738 485.6 740 486.1 742 486.6 744 487.1 746 487.6 748 488.1 750 488.2 752 486.0 754 483.8 756 482.0 758 482.4 760 482.8 762 483.2 764 483.6 766 483.9 768 484.3 770 484.7 772 485.1 774 485.5 776 485.9 778 486.3 780 486.6 782 487.0 784 487.4 786 487.8 788 488.2 790 488.6 792 489.0 794 489.3 796 489.7 798 490.0 800 489.6 802 489.1 804 488.7 806 488.2 808 487.8 810 487.3 812 486.9 814 486.4 816 486.0 818 485.5 820 485.1 822 484.6 824 484.8 826 485.2 828 485.7 830 486.1 832 486.6 834 487.0 836 487.5 838 487.9 840 488.4 842 488.8 844 489.3 846 489.7 848 490.2 850 490.6 852 491.1 854 491.5 856 492.0 858 492.4 860 492.9 862 493.4 864 493.8 866 494.3 868 494.7 870 495.2 872 495.6 874 496.1 876 496.6 878 497.0 880 497.5 882 497.9 884 498.4 886 498.9 888 499.5 890 500.9 892 502.3 894 503.7 896 505.2 898 506.6 900 508.0 902 509.2 904 509.0 906 508.9 908 508.7 910 508.6 912 508.4 914 508.2 916 508.1 918 507.9 920 507.8 922 507.6 924 507.4 926 507.3 928 507.1 930 507.0 932 506.8 934 506.6 936 506.5 938 506.3 940 506.3 942 507.0 944 507.7 946 508.5 948 509.2 950 509.9 952 510.6 954 511.4 956 512.1 958 512.8 960 513.5 962 514.2 964 514.4 966 514.7 968 514.9 970 515.2 972 515.5 974 515.7 976 516.0 978 516.2 980 516.5 982 516.7 984 517.0 986 517.2 988 517.5 990 517.8 992 518.0 994 518.1M590 475.5 592 475.9 594 476.4 596 476.9 598 477.5 600 478.0 602 478.6 604 479.1 606 477.2M608 474.6 610 475.1 612 475.7 614 476.2 616 476.7 618 477.3 620 477.8 622 478.4 624 478.9 626 479.4 628 480.0 630 480.5 632 481.1 634 481.6 636 482.1 638 482.7 640 483.2 642 483.8 644 484.3 646 484.8 648 485.4 650 485.9 652 486.5 654 487.0 656 487.5 658 488.1 660 488.6 662 489.2 664 489.7 666 488.1M668 485.4 670 484.9 672 485.5 674 486.0 676 486.6 678 487.2 680 487.8 682 488.4 684 489.0 686 489.5 688 490.1 690 490.7 692 491.3 694 491.9 696 492.4 698 493.0 700 493.6 702 493.6M704 490.4M706 487.2M708 484.6 710 485.1 712 485.6 714 486.1 716 486.6 718 487.1 720 487.6 722 488.1 724 488.6 726 489.1 728 489.6 730 490.1 732 490.6 734 491.1 736 491.6 738 492.1 740 492.6 742 493.1 744 493.6 746 494.1 748 494.6 750 494.7 752 492.5 754 490.3 756 488.6 758 489.0 760 489.4 762 489.8 764 490.2 766 490.6 768 491.0 770 491.4 772 491.8 774 492.2 776 492.6 778 493.0 780 493.4 782 493.8 784 494.2 786 494.6 788 495.0 790 495.4 792 495.8 794 496.2 796 496.6 798 496.8 800 496.4 802 496.0 804 495.5 806 495.1 808 494.7 810 494.2 812 493.8 814 493.4 816 492.9 818 492.5 820 492.1 822 491.7 824 491.8 826 492.3 828 492.7 830 493.2 832 493.6 834 494.1 836 494.6 838 495.0 840 495.5 842 496.0 844 496.4 846 496.9 848 497.3 850 497.8 852 498.3 854 498.7 856 499.2 858 499.6 860 500.1 862 500.6 864 501.0 866 501.5 868 502.0 870 502.4 872 502.9 874 503.3 876 503.8 878 504.3 880 504.7 882 505.2 884 505.6 886 506.1 888 506.7 890 508.1 892 509.6 894 511.0 896 512.4 898 513.9 900 515.3 902 516.5 904 516.3 906 516.2 908 516.0 910 515.8 912 515.7 914 515.5 916 515.4 918 515.2 920 515.1 922 514.9 924 514.7 926 514.6 928 514.4 930 514.3 932 514.1 934 514.0 936 513.8 938 513.6 940 513.6 942 514.3 944 515.1 946 515.8 948 516.5 950 517.2 952 518.0 954 518.7 956 519.4 958 520.2 960 520.9 962 521.5 964 521.8 966 522.1 968 522.3 970 522.6 972 522.8 974 523.1 976 523.3 978 523.6 980 523.9 982 524.1 984 524.4 986 524.6 988 524.9 990 525.2 992 525.4 994 525.5M590 481.8 592 482.1 594 482.7 596 483.2 598 483.7 600 484.3 602 484.8 604 485.4 606 483.5M608 480.9 610 481.4 612 481.9 614 482.5 616 483.0 618 483.6 620 484.1 622 484.7 624 485.2 626 485.7 628 486.3 630 486.8 632 487.4 634 487.9 636 488.5 638 489.0 640 489.6 642 490.1 644 490.6 646 491.2 648 491.7 650 492.3 652 492.8 654 493.4 656 493.9 658 494.4 660 495.0 662 495.5 664 496.1 666 494.5M668 491.8 670 491.3 672 491.8 674 492.4 676 493.0 678 493.6 680 494.2 682 494.8 684 495.3 686 495.9 688 496.5 690 497.1 692 497.7 694 498.3 696 498.9 698 499.4 700 500.0 702 500.0M704 496.8M706 493.7M708 491.0 710 491.5 712 492.0 714 492.5 716 493.0 718 493.5 720 494.0 722 494.5 724 495.0 726 495.5 728 496.0 730 496.5 732 497.0 734 497.6 736 498.1 738 498.6 740 499.1 742 499.6 744 500.1 746 500.6 748 501.1 750 501.2 752 499.0 754 496.9 756 495.1 758 495.5 760 495.9 762 496.3 764 496.8 766 497.2 768 497.6 770 498.0 772 498.4 774 498.8 776 499.2 778 499.7 780 500.1 782 500.5 784 500.9 786 501.3 788 501.7 790 502.1 792 502.6 794 503.0 796 503.4 798 503.7 800 503.3 802 502.8 804 502.4 806 502.0 808 501.6 810 501.2 812 500.7 814 500.3 816 499.9 818 499.5 820 499.1 822 498.7 824 498.8 826 499.3 828 499.8 830 500.2 832 500.7 834 501.2 836 501.7 838 502.1 840 502.6 842 503.1 844 503.6 846 504.1 848 504.5 850 505.0 852 505.5 854 505.9 856 506.4 858 506.9 860 507.3 862 507.8 864 508.3 866 508.7 868 509.2 870 509.6 872 510.1 874 510.6 876 511.0 878 511.5 880 512.0 882 512.4 884 512.9 886 513.4 888 514.0 890 515.4 892 516.8 894 518.3 896 519.7 898 521.1 900 522.6 902 523.7 904 523.6 906 523.4 908 523.3 910 523.1 912 523.0 914 522.8 916 522.7 918 522.5 920 522.4 922 522.2 924 522.0 926 521.9 928 521.7 930 521.6 932 521.4 934 521.3 936 521.1 938 521.0 940 520.9 942 521.7 944 522.4 946 523.1 948 523.9 950 524.6 952 525.3 954 526.0 956 526.8 958 527.5 960 528.2 962 528.9 964 529.2 966 529.4 968 529.7 970 529.9 972 530.2 974 530.5 976 530.7 978 531.0 980 531.2 982 531.5 984 531.8 986 532.0 988 532.3 990 532.5 992 532.8 994 532.9M590 488.0 592 488.4 594 488.9 596 489.5 598 490.0 600 490.6 602 491.1 604 491.7 606 489.8M608 487.1 610 487.7 612 488.2 614 488.8 616 489.3 618 489.9 620 490.4 622 491.0 624 491.5 626 492.1 628 492.6 630 493.1 632 493.7 634 494.2 636 494.8 638 495.3 640 495.9 642 496.4 644 497.0 646 497.5 648 498.1 650 498.6 652 499.2 654 499.7 656 500.3 658 500.8 660 501.3 662 501.9 664 502.4 666 500.9M668 498.2 670 497.6 672 498.2 674 498.8 676 499.4 678 500.0 680 500.6 682 501.2 684 501.7 686 502.3 688 502.9 690 503.5 692 504.1 694 504.7 696 505.3 698 505.9 700 506.4 702 506.5M704 503.3M706 500.1M708 497.4 710 498.0 712 498.5 714 499.0 716 499.5 718 500.0 720 500.5 722 501.0 724 501.5 726 502.0 728 502.5 730 503.0 732 503.5 734 504.0 736 504.5 738 505.0 740 505.5 742 506.1 744 506.6 746 507.1 748 507.6 750 507.7 752 505.5 754 503.4 756 501.6 758 502.1 760 502.5 762 502.9 764 503.4 766 503.8 768 504.2 770 504.6 772 505.1 774 505.5 776 505.9 778 506.4 780 506.8 782 507.2 784 507.6 786 508.1 788 508.5 790 508.9 792 509.4 794 509.8 796 510.2 798 510.5 800 510.1 802 509.7 804 509.3 806 508.9 808 508.5 810 508.1 812 507.7 814 507.3 816 506.9 818 506.5 820 506.1 822 505.7 824 505.8 826 506.3 828 506.8 830 507.3 832 507.8 834 508.3 836 508.8 838 509.3 840 509.8 842 510.2 844 510.7 846 511.2 848 511.7 850 512.2 852 512.7 854 513.1 856 513.6 858 514.1 860 514.5 862 515.0 864 515.5 866 515.9 868 516.4 870 516.9 872 517.3 874 517.8 876 518.3 878 518.7 880 519.2 882 519.7 884 520.1 886 520.6 888 521.2 890 522.7 892 524.1 894 525.5 896 527.0 898 528.4 900 529.8 902 531.0 904 530.9 906 530.7 908 530.6 910 530.4 912 530.3 914 530.1 916 530.0 918 529.8 920 529.7 922 529.5 924 529.3 926 529.2 928 529.0 930 528.9 932 528.7 934 528.6 936 528.4 938 528.3 940 528.3 942 529.0 944 529.7 946 530.5 948 531.2 950 531.9 952 532.7 954 533.4 956 534.1 958 534.9 960 535.6 962 536.3 964 536.5 966 536.8 968 537.0 970 537.3 972 537.6 974 537.8 976 538.1 978 538.4 980 538.6 982 538.9 984 539.2 986 539.4 988 539.7 990 539.9 992 540.2 994 540.3M590 494.2 592 494.6 594 495.2 596 495.7 598 496.3 600 496.8 602 497.4 604 497.9 606 496.0M608 493.4 610 494.0 612 494.5 614 495.1 616 495.6 618 496.2 620 496.7 622 497.3 624 497.8 626 498.4 628 498.9 630 499.5 632 500.0 634 500.6 636 501.1 638 501.7 640 502.2 642 502.8 644 503.3 646 503.9 648 504.4 650 505.0 652 505.5 654 506.1 656 506.6 658 507.2 660 507.7 662 508.3 664 508.8 666 507.3M668 504.6 670 504.0 672 504.6 674 505.2 676 505.8 678 506.4 680 507.0 682 507.5 684 508.1 686 508.7 688 509.3 690 509.9 692 510.5 694 511.1 696 511.7 698 512.3 700 512.9 702 512.9M704 509.7M706 506.5M708 503.9 710 504.4 712 504.9 714 505.4 716 505.9 718 506.4 720 506.9 722 507.4 724 508.0 726 508.5 728 509.0 730 509.5 732 510.0 734 510.5 736 511.0 738 511.5 740 512.0 742 512.5 744 513.0 746 513.6 748 514.1 750 514.2 752 512.1 754 509.9 756 508.2 758 508.6 760 509.1 762 509.5 764 510.0 766 510.4 768 510.8 770 511.3 772 511.7 774 512.2 776 512.6 778 513.1 780 513.5 782 513.9 784 514.4 786 514.8 788 515.3 790 515.7 792 516.1 794 516.6 796 517.0 798 517.3 800 517.0 802 516.6 804 516.2 806 515.8 808 515.4 810 515.0 812 514.6 814 514.2 816 513.8 818 513.4 820 513.1 822 512.7 824 512.9 826 513.4 828 513.9 830 514.4 832 514.9 834 515.4 836 515.9 838 516.4 840 516.9 842 517.4 844 517.9 846 518.4 848 518.9 850 519.4 852 519.9 854 520.3 856 520.8 858 521.3 860 521.8 862 522.2 864 522.7 866 523.2 868 523.6 870 524.1 872 524.6 874 525.0 876 525.5 878 526.0 880 526.5 882 526.9 884 527.4 886 527.9 888 528.5 890 529.9 892 531.3 894 532.8 896 534.2 898 535.7 900 537.1 902 538.3 904 538.1 906 538.0 908 537.8 910 537.7 912 537.5 914 537.4 916 537.2 918 537.1 920 537.0 922 536.8 924 536.7 926 536.5 928 536.4 930 536.2 932 536.1 934 535.9 936 535.8 938 535.6 940 535.6 942 536.3 944 537.1 946 537.8 948 538.5 950 539.3 952 540.0 954 540.7 956 541.5 958 542.2 960 542.9 962 543.6 964 543.9 966 544.1 968 544.4 970 544.7 972 544.9 974 545.2 976 545.5 978 545.7 980 546.0 982 546.3 984 546.5 986 546.8 988 547.1 990 547.3 992 547.6 994 547.7M590 500.5 592 500.9 594 501.4 596 502.0 598 502.5 600 503.1 602 503.6 604 504.2 606 502.3M608 499.7 610 500.2 612 500.8 614 501.3 616 501.9 618 502.5 620 503.0 622 503.6 624 504.1 626 504.7 628 505.2 630 505.8 632 506.3 634 506.9 636 507.4 638 508.0 640 508.5 642 509.1 644 509.6 646 510.2 648 510.7 650 511.3 652 511.9 654 512.4 656 513.0 658 513.5 660 514.1 662 514.6 664 515.2 666 513.6M668 510.9 670 510.4 672 511.0 674 511.6 676 512.2 678 512.8 680 513.3 682 513.9 684 514.5 686 515.1 688 515.7 690 516.3 692 516.9 694 517.5 696 518.1 698 518.7 700 519.3 702 519.3M704 516.1M706 512.9M708 510.3 710 510.8 712 511.3 714 511.9 716 512.4 718 512.9 720 513.4 722 513.9 724 514.4 726 514.9 728 515.4 730 516.0 732 516.5 734 517.0 736 517.5 738 518.0 740 518.5 742 519.0 744 519.5 746 520.1 748 520.6 750 520.7 752 518.6 754 516.5 756 514.7 758 515.2 760 515.6 762 516.1 764 516.6 766 517.0 768 517.5 770 517.9 772 518.4 774 518.8 776 519.3 778 519.8 780 520.2 782 520.7 784 521.1 786 521.6 788 522.0 790 522.5 792 522.9 794 523.4 796 523.9 798 524.2 800 523.8 802 523.4 804 523.1 806 522.7 808 522.3 810 521.9 812 521.6 814 521.2 816 520.8 818 520.4 820 520.1 822 519.7 824 519.9 826 520.4 828 520.9 830 521.4 832 522.0 834 522.5 836 523.0 838 523.5 840 524.0 842 524.5 844 525.1 846 525.6 848 526.1 850 526.6 852 527.1 854 527.5 856 528.0 858 528.5 860 529.0 862 529.4 864 529.9 866 530.4 868 530.9 870 531.3 872 531.8 874 532.3 876 532.7 878 533.2 880 533.7 882 534.2 884 534.6 886 535.1 888 535.7 890 537.2 892 538.6 894 540.0 896 541.5 898 542.9 900 544.4 902 545.6 904 545.4 906 545.3 908 545.1 910 545.0 912 544.8 914 544.7 916 544.5 918 544.4 920 544.2 922 544.1 924 544.0 926 543.8 928 543.7 930 543.5 932 543.4 934 543.2 936 543.1 938 542.9 940 542.9 942 543.7 944 544.4 946 545.1 948 545.9 950 546.6 952 547.3 954 548.1 956 548.8 958 549.6 960 550.3 962 551.0 964 551.2 966 551.5 968 551.8 970 552.0 972 552.3 974 552.6 976 552.9 978 553.1 980 553.4 982 553.7 984 553.9 986 554.2 988 554.5 990 554.7 992 555.0 994 555.1M590 506.8 592 507.1 594 507.7 596 508.2 598 508.8 600 509.3 602 509.9 604 510.5 606 508.6M608 506.0 610 506.5 612 507.1 614 507.6 616 508.2 618 508.7 620 509.3 622 509.9 624 510.4 626 511.0 628 511.5 630 512.1 632 512.6 634 513.2 636 513.8 638 514.3 640 514.9 642 515.4 644 516.0 646 516.5 648 517.1 650 517.6 652 518.2 654 518.8 656 519.3 658 519.9 660 520.4 662 521.0 664 521.5 666 520.0M668 517.3 670 516.8 672 517.3 674 517.9 676 518.5 678 519.1 680 519.7 682 520.3 684 520.9 686 521.5 688 522.1 690 522.7 692 523.3 694 523.9 696 524.5 698 525.1 700 525.7 702 525.7M704 522.6M706 519.4M708 516.7 710 517.3 712 517.8 714 518.3 716 518.8 718 519.3 720 519.8 722 520.4 724 520.9 726 521.4 728 521.9 730 522.4 732 522.9 734 523.5 736 524.0 738 524.5 740 525.0 742 525.5 744 526.0 746 526.5 748 527.1 750 527.2 752 525.1 754 523.0 756 521.3 758 521.8 760 522.2 762 522.7 764 523.2 766 523.6 768 524.1 770 524.6 772 525.0 774 525.5 776 526.0 778 526.5 780 526.9 782 527.4 784 527.9 786 528.3 788 528.8 790 529.3 792 529.7 794 530.2 796 530.7 798 531.0 800 530.7 802 530.3 804 529.9 806 529.6 808 529.2 810 528.9 812 528.5 814 528.1 816 527.8 818 527.4 820 527.0 822 526.7 824 526.9 826 527.4 828 528.0 830 528.5 832 529.0 834 529.6 836 530.1 838 530.6 840 531.2 842 531.7 844 532.2 846 532.7 848 533.3 850 533.8 852 534.3 854 534.8 856 535.2 858 535.7 860 536.2 862 536.7 864 537.1 866 537.6 868 538.1 870 538.6 872 539.0 874 539.5 876 540.0 878 540.5 880 540.9 882 541.4 884 541.9 886 542.4 888 543.0 890 544.4 892 545.9 894 547.3 896 548.8 898 550.2 900 551.6 902 552.8 904 552.7 906 552.6 908 552.4 910 552.3 912 552.1 914 552.0 916 551.8 918 551.7 920 551.5 922 551.4 924 551.3 926 551.1 928 551.0 930 550.8 932 550.7 934 550.5 936 550.4 938 550.3 940 550.2 942 551.0 944 551.7 946 552.5 948 553.2 950 553.9 952 554.7 954 555.4 956 556.2 958 556.9 960 557.7 962 558.3 964 558.6 966 558.9 968 559.1 970 559.4 972 559.7 974 560.0 976 560.2 978 560.5 980 560.8 982 561.0 984 561.3 986 561.6 988 561.9 990 562.1 992 562.4 994 562.5M590 513.0 592 513.4 594 513.9 596 514.5 598 515.1 600 515.6 602 516.2 604 516.7 606 514.9M608 512.2 610 512.8 612 513.4 614 513.9 616 514.5 618 515.0 620 515.6 622 516.2 624 516.7 626 517.3 628 517.8 630 518.4 632 519.0 634 519.5 636 520.1 638 520.6 640 521.2 642 521.8 644 522.3 646 522.9 648 523.4 650 524.0 652 524.5 654 525.1 656 525.7 658 526.2 660 526.8 662 527.3 664 527.9 666 526.4M668 523.7 670 523.1 672 523.7 674 524.3 676 524.9 678 525.5 680 526.1 682 526.7 684 527.3 686 527.9 688 528.5 690 529.1 692 529.7 694 530.3 696 530.9 698 531.5 700 532.1 702 532.2M704 529.0M706 525.8M708 523.2 710 523.7 712 524.2 714 524.7 716 525.3 718 525.8 720 526.3 722 526.8 724 527.3 726 527.9 728 528.4 730 528.9 732 529.4 734 529.9 736 530.4 738 531.0 740 531.5 742 532.0 744 532.5 746 533.0 748 533.6 750 533.7 752 531.6 754 529.5 756 527.8 758 528.3 760 528.8 762 529.3 764 529.8 766 530.2 768 530.7 770 531.2 772 531.7 774 532.2 776 532.7 778 533.1 780 533.6 782 534.1 784 534.6 786 535.1 788 535.6 790 536.1 792 536.5 794 537.0 796 537.5 798 537.9 800 537.5 802 537.2 804 536.8 806 536.5 808 536.1 810 535.8 812 535.4 814 535.1 816 534.7 818 534.4 820 534.0 822 533.7 824 533.9 826 534.5 828 535.0 830 535.6 832 536.1 834 536.6 836 537.2 838 537.7 840 538.3 842 538.8 844 539.4 846 539.9 848 540.5 850 541.0 852 541.5 854 542.0 856 542.4 858 542.9 860 543.4 862 543.9 864 544.4 866 544.8 868 545.3 870 545.8 872 546.3 874 546.7 876 547.2 878 547.7 880 548.2 882 548.7 884 549.1 886 549.6 888 550.2 890 551.7 892 553.1 894 554.6 896 556.0 898 557.5 900 558.9 902 560.1 904 560.0 906 559.8 908 559.7 910 559.6 912 559.4 914 559.3 916 559.1 918 559.0 920 558.8 922 558.7 924 558.6 926 558.4 928 558.3 930 558.1 932 558.0 934 557.9 936 557.7 938 557.6 940 557.6 942 558.3 944 559.1 946 559.8 948 560.5 950 561.3 952 562.0 954 562.8 956 563.5 958 564.3 960 565.0 962 565.7 964 566.0 966 566.2 968 566.5 970 566.8 972 567.1 974 567.3 976 567.6 978 567.9 980 568.2 982 568.4 984 568.7 986 569.0 988 569.3 990 569.5 992 569.8 994 569.9M590 519.2 592 519.6 594 520.2 596 520.7 598 521.3 600 521.9 602 522.4 604 523.0 606 521.1M608 518.5 610 519.1 612 519.6 614 520.2 616 520.8 618 521.3 620 521.9 622 522.5 624 523.0 626 523.6 628 524.1 630 524.7 632 525.3 634 525.8 636 526.4 638 527.0 640 527.5 642 528.1 644 528.6 646 529.2 648 529.8 650 530.3 652 530.9 654 531.5 656 532.0 658 532.6 660 533.1 662 533.7 664 534.3 666 532.7M668 530.0 670 529.5 672 530.1 674 530.7 676 531.3 678 531.9 680 532.5 682 533.1 684 533.7 686 534.3 688 534.9 690 535.5 692 536.1 694 536.7 696 537.4 698 538.0 700 538.6 702 538.6M704 535.4M706 532.2M708 529.6 710 530.1 712 530.7 714 531.2 716 531.7 718 532.2 720 532.7 722 533.3 724 533.8 726 534.3 728 534.8 730 535.4 732 535.9 734 536.4 736 536.9 738 537.4 740 538.0 742 538.5 744 539.0 746 539.5 748 540.1 750 540.2 752 538.1 754 536.1 756 534.4 758 534.9 760 535.4 762 535.9 764 536.4 766 536.9 768 537.4 770 537.9 772 538.4 774 538.9 776 539.3 778 539.8 780 540.3 782 540.8 784 541.3 786 541.8 788 542.3 790 542.8 792 543.3 794 543.8 796 544.3 798 544.7 800 544.4 802 544.0 804 543.7 806 543.4 808 543.0 810 542.7 812 542.4 814 542.0 816 541.7 818 541.4 820 541.0 822 540.7 824 540.9 826 541.5 828 542.1 830 542.6 832 543.2 834 543.7 836 544.3 838 544.9 840 545.4 842 546.0 844 546.5 846 547.1 848 547.7 850 548.2 852 548.7 854 549.2 856 549.6 858 550.1 860 550.6 862 551.1 864 551.6 866 552.1 868 552.5 870 553.0 872 553.5 874 554.0 876 554.5 878 554.9 880 555.4 882 555.9 884 556.4 886 556.9 888 557.5 890 558.9 892 560.4 894 561.8 896 563.3 898 564.7 900 566.2 902 567.4 904 567.3 906 567.1 908 567.0 910 566.8 912 566.7 914 566.6 916 566.4 918 566.3 920 566.1 922 566.0 924 565.9 926 565.7 928 565.6 930 565.5 932 565.3 934 565.2 936 565.0 938 564.9 940 564.9 942 565.6 944 566.4 946 567.1 948 567.9 950 568.6 952 569.4 954 570.1 956 570.9 958 571.6 960 572.4 962 573.0 964 573.3 966 573.6 968 573.9 970 574.1 972 574.4 974 574.7 976 575.0 978 575.3 980 575.5 982 575.8 984 576.1 986 576.4 988 576.6 990 576.9 992 577.2 994 577.3M590 525.5 592 525.9 594 526.4 596 527.0 598 527.6 600 528.1 602 528.7 604 529.3 606 527.4M608 524.8 610 525.4 612 525.9 614 526.5 616 527.1 618 527.6 620 528.2 622 528.8 624 529.3 626 529.9 628 530.5 630 531.0 632 531.6 634 532.2 636 532.7 638 533.3 640 533.8 642 534.4 644 535.0 646 535.5 648 536.1 650 536.7 652 537.2 654 537.8 656 538.4 658 538.9 660 539.5 662 540.1 664 540.6 666 539.1M668 536.4 670 535.9 672 536.5 674 537.1 676 537.7 678 538.3 680 538.9 682 539.5 684 540.1 686 540.7 688 541.3 690 541.9 692 542.6 694 543.2 696 543.8 698 544.4 700 545.0 702 545.0M704 541.8M706 538.7M708 536.1 710 536.6 712 537.1 714 537.6 716 538.2 718 538.7 720 539.2 722 539.7 724 540.3 726 540.8 728 541.3 730 541.8 732 542.4 734 542.9 736 543.4 738 543.9 740 544.5 742 545.0 744 545.5 746 546.0 748 546.6 750 546.7 752 544.6 754 542.6 756 540.9 758 541.4 760 541.9 762 542.4 764 543.0 766 543.5 768 544.0 770 544.5 772 545.0 774 545.5 776 546.0 778 546.5 780 547.1 782 547.6 784 548.1 786 548.6 788 549.1 790 549.6 792 550.1 794 550.6 796 551.2 798 551.5 800 551.2 802 550.9 804 550.6 806 550.3 808 549.9 810 549.6 812 549.3 814 549.0 816 548.7 818 548.3 820 548.0 822 547.7 824 548.0 826 548.5 828 549.1 830 549.7 832 550.3 834 550.8 836 551.4 838 552.0 840 552.5 842 553.1 844 553.7 846 554.3 848 554.8 850 555.4 852 555.9 854 556.4 856 556.9 858 557.3 860 557.8 862 558.3 864 558.8 866 559.3 868 559.8 870 560.2 872 560.7 874 561.2 876 561.7 878 562.2 880 562.7 882 563.1 884 563.6 886 564.1 888 564.7 890 566.2 892 567.6 894 569.1 896 570.5 898 572.0 900 573.4 902 574.7 904 574.5 906 574.4 908 574.3 910 574.1 912 574.0 914 573.8 916 573.7 918 573.6 920 573.4 922 573.3 924 573.2 926 573.0 928 572.9 930 572.8 932 572.6 934 572.5 936 572.4 938 572.2 940 572.2 942 573.0 944 573.7 946 574.5 948 575.2 950 576.0 952 576.7 954 577.5 956 578.2 958 579.0 960 579.7 962 580.4 964 580.7 966 581.0 968 581.2 970 581.5 972 581.8 974 582.1 976 582.4 978 582.6 980 582.9 982 583.2 984 583.5 986 583.8 988 584.0 990 584.3 992 584.6 994 584.7M590 531.8 592 532.1 594 532.7 596 533.3 598 533.8 600 534.4 602 535.0 604 535.5 606 533.7M608 531.1 610 531.6 612 532.2 614 532.8 616 533.4 618 533.9 620 534.5 622 535.1 624 535.6 626 536.2 628 536.8 630 537.3 632 537.9 634 538.5 636 539.0 638 539.6 640 540.2 642 540.7 644 541.3 646 541.9 648 542.4 650 543.0 652 543.6 654 544.2 656 544.7 658 545.3 660 545.9 662 546.4 664 547.0 666 545.5M668 542.8 670 542.3 672 542.9 674 543.5 676 544.1 678 544.7 680 545.3 682 545.9 684 546.5 686 547.1 688 547.7 690 548.4 692 549.0 694 549.6 696 550.2 698 550.8 700 551.4 702 551.4M704 548.3M706 545.1M708 542.5 710 543.0 712 543.5 714 544.1 716 544.6 718 545.1 720 545.7 722 546.2 724 546.7 726 547.2 728 547.8 730 548.3 732 548.8 734 549.4 736 549.9 738 550.4 740 550.9 742 551.5 744 552.0 746 552.5 748 553.1 750 553.2 752 551.2 754 549.1 756 547.5 758 548.0 760 548.5 762 549.0 764 549.6 766 550.1 768 550.6 770 551.1 772 551.7 774 552.2 776 552.7 778 553.2 780 553.8 782 554.3 784 554.8 786 555.3 788 555.9 790 556.4 792 556.9 794 557.5 796 558.0 798 558.4 800 558.1 802 557.8 804 557.5 806 557.2 808 556.8 810 556.5 812 556.2 814 555.9 816 555.6 818 555.3 820 555.0 822 554.7 824 555.0 826 555.6 828 556.2 830 556.7 832 557.3 834 557.9 836 558.5 838 559.1 840 559.7 842 560.3 844 560.9 846 561.4 848 562.0 850 562.6 852 563.1 854 563.6 856 564.1 858 564.6 860 565.0 862 565.5 864 566.0 866 566.5 868 567.0 870 567.5 872 568.0 874 568.4 876 568.9 878 569.4 880 569.9 882 570.4 884 570.9 886 571.4 888 572.0 890 573.5 892 574.9 894 576.4 896 577.8 898 579.3 900 580.7 902 581.9 904 581.8 906 581.7 908 581.5 910 581.4 912 581.3 914 581.1 916 581.0 918 580.9 920 580.7 922 580.6 924 580.5 926 580.3 928 580.2 930 580.1 932 579.9 934 579.8 936 579.7 938 579.5 940 579.5 942 580.3 944 581.1 946 581.8 948 582.6 950 583.3 952 584.1 954 584.8 956 585.6 958 586.3 960 587.1 962 587.8 964 588.0 966 588.3 968 588.6 970 588.9 972 589.2 974 589.5 976 589.7 978 590.0 980 590.3 982 590.6 984 590.9 986 591.2 988 591.4 990 591.7 992 592.0 994 592.1M590 538.0 592 538.4 594 538.9 596 539.5 598 540.1 600 540.7 602 541.2 604 541.8 606 540.0M608 537.4 610 537.9 612 538.5 614 539.1 616 539.6 618 540.2 620 540.8 622 541.4 624 541.9 626 542.5 628 543.1 630 543.6 632 544.2 634 544.8 636 545.4 638 545.9 640 546.5 642 547.1 644 547.6 646 548.2 648 548.8 650 549.4 652 549.9 654 550.5 656 551.1 658 551.6 660 552.2 662 552.8 664 553.4 666 551.8M668 549.2 670 548.6 672 549.2 674 549.9 676 550.5 678 551.1 680 551.7 682 552.3 684 552.9 686 553.5 688 554.1 690 554.8 692 555.4 694 556.0 696 556.6 698 557.2 700 557.8 702 557.9M704 554.7M706 551.5M708 548.9 710 549.5 712 550.0 714 550.5 716 551.0 718 551.6 720 552.1 722 552.6 724 553.2 726 553.7 728 554.2 730 554.8 732 555.3 734 555.8 736 556.4 738 556.9 740 557.4 742 558.0 744 558.5 746 559.0 748 559.5 750 559.7 752 557.7 754 555.6 756 554.0 758 554.5 760 555.1 762 555.6 764 556.2 766 556.7 768 557.2 770 557.8 772 558.3 774 558.9 776 559.4 778 559.9 780 560.5 782 561.0 784 561.6 786 562.1 788 562.6 790 563.2 792 563.7 794 564.3 796 564.8 798 565.2 800 564.9 802 564.6 804 564.3 806 564.0 808 563.8 810 563.5 812 563.2 814 562.9 816 562.6 818 562.3 820 562.0 822 561.7 824 562.0 826 562.6 828 563.2 830 563.8 832 564.4 834 565.0 836 565.6 838 566.2 840 566.8 842 567.4 844 568.0 846 568.6 848 569.2 850 569.8 852 570.3 854 570.8 856 571.3 858 571.8 860 572.3 862 572.7 864 573.2 866 573.7 868 574.2 870 574.7 872 575.2 874 575.7 876 576.2 878 576.7 880 577.1 882 577.6 884 578.1 886 578.6 888 579.2 890 580.7 892 582.2 894 583.6 896 585.1 898 586.5 900 588.0 902 589.2 904 589.1 906 588.9 908 588.8 910 588.7 912 588.6 914 588.4 916 588.3 918 588.2 920 588.0 922 587.9 924 587.8 926 587.6 928 587.5 930 587.4 932 587.3 934 587.1 936 587.0 938 586.9 940 586.9 942 587.6 944 588.4 946 589.1 948 589.9 950 590.6 952 591.4 954 592.2 956 592.9 958 593.7 960 594.4 962 595.1 964 595.4 966 595.7 968 596.0 970 596.3 972 596.5 974 596.8 976 597.1 978 597.4 980 597.7 982 598.0 984 598.3 986 598.5 988 598.8 990 599.1 992 599.4 994 599.5M590 544.2 592 544.6 594 545.2 596 545.8 598 546.4 600 546.9 602 547.5 604 548.1 606 546.2M608 543.6 610 544.2 612 544.8 614 545.4 616 545.9 618 546.5 620 547.1 622 547.7 624 548.2 626 548.8 628 549.4 630 550.0 632 550.5 634 551.1 636 551.7 638 552.3 640 552.8 642 553.4 644 554.0 646 554.6 648 555.1 650 555.7 652 556.3 654 556.9 656 557.4 658 558.0 660 558.6 662 559.2 664 559.7 666 558.2M668 555.5 670 555.0 672 555.6 674 556.2 676 556.8 678 557.5 680 558.1 682 558.7 684 559.3 686 559.9 688 560.5 690 561.2 692 561.8 694 562.4 696 563.0 698 563.6 700 564.2 702 564.3M704 561.1M706 558.0M708 555.4 710 555.9 712 556.4 714 557.0 716 557.5 718 558.0 720 558.6 722 559.1 724 559.6 726 560.2 728 560.7 730 561.2 732 561.8 734 562.3 736 562.8 738 563.4 740 563.9 742 564.4 744 565.0 746 565.5 748 566.0 750 566.2 752 564.2 754 562.2 756 560.5 758 561.1 760 561.7 762 562.2 764 562.8 766 563.3 768 563.9 770 564.4 772 565.0 774 565.5 776 566.1 778 566.6 780 567.2 782 567.7 784 568.3 786 568.9 788 569.4 790 570.0 792 570.5 794 571.1 796 571.6 798 572.1 800 571.8 802 571.5 804 571.2 806 570.9 808 570.7 810 570.4 812 570.1 814 569.8 816 569.6 818 569.3 820 569.0 822 568.7 824 569.0 826 569.6 828 570.3 830 570.9 832 571.5 834 572.1 836 572.7 838 573.3 840 573.9 842 574.6 844 575.2 846 575.8 848 576.4 850 577.0 852 577.5 854 578.0 856 578.5 858 579.0 860 579.5 862 580.0 864 580.5 866 580.9 868 581.4 870 581.9 872 582.4 874 582.9 876 583.4 878 583.9 880 584.4 882 584.9 884 585.4 886 585.9 888 586.5 890 588.0 892 589.4 894 590.9 896 592.3 898 593.8 900 595.3 902 596.5 904 596.4 906 596.2 908 596.1 910 596.0 912 595.8 914 595.7 916 595.6 918 595.5 920 595.3 922 595.2 924 595.1 926 595.0 928 594.8 930 594.7 932 594.6 934 594.4 936 594.3 938 594.2 940 594.2 942 595.0 944 595.7 946 596.5 948 597.2 950 598.0 952 598.7 954 599.5 956 600.3 958 601.0 960 601.8 962 602.5 964 602.8 966 603.0 968 603.3 970 603.6 972 603.9 974 604.2 976 604.5 978 604.8 980 605.1 982 605.4 984 605.6 986 605.9 988 606.2 990 606.5 992 606.8 994 606.9M590 550.5 592 550.9 594 551.5 596 552.0 598 552.6 600 553.2 602 553.8 604 554.4 606 552.5M608 549.9 610 550.5 612 551.1 614 551.6 616 552.2 618 552.8 620 553.4 622 554.0 624 554.5 626 555.1 628 555.7 630 556.3 632 556.8 634 557.4 636 558.0 638 558.6 640 559.2 642 559.7 644 560.3 646 560.9 648 561.5 650 562.0 652 562.6 654 563.2 656 563.8 658 564.4 660 564.9 662 565.5 664 566.1 666 564.6M668 561.9 670 561.4 672 562.0 674 562.6 676 563.2 678 563.9 680 564.5 682 565.1 684 565.7 686 566.3 688 567.0 690 567.6 692 568.2 694 568.8 696 569.4 698 570.0 700 570.7 702 570.7M704 567.6M706 564.4M708 561.8 710 562.3 712 562.9 714 563.4 716 563.9 718 564.5 720 565.0 722 565.6 724 566.1 726 566.6 728 567.2 730 567.7 732 568.2 734 568.8 736 569.3 738 569.9 740 570.4 742 570.9 744 571.5 746 572.0 748 572.5 750 572.7 752 570.7 754 568.7 756 567.1 758 567.7 760 568.2 762 568.8 764 569.4 766 569.9 768 570.5 770 571.1 772 571.6 774 572.2 776 572.8 778 573.3 780 573.9 782 574.5 784 575.0 786 575.6 788 576.2 790 576.7 792 577.3 794 577.9 796 578.4 798 578.9 800 578.6 802 578.4 804 578.1 806 577.8 808 577.6 810 577.3 812 577.0 814 576.8 816 576.5 818 576.3 820 576.0 822 575.7 824 576.0 826 576.7 828 577.3 830 577.9 832 578.6 834 579.2 836 579.8 838 580.4 840 581.1 842 581.7 844 582.3 846 583.0 848 583.6 850 584.2 852 584.7 854 585.2 856 585.7 858 586.2 860 586.7 862 587.2 864 587.7 866 588.2 868 588.7 870 589.2 872 589.7 874 590.1 876 590.6 878 591.1 880 591.6 882 592.1 884 592.6 886 593.1 888 593.8 890 595.2 892 596.7 894 598.1 896 599.6 898 601.1 900 602.5 902 603.8 904 603.6 906 603.5 908 603.4 910 603.3 912 603.1 914 603.0 916 602.9 918 602.8 920 602.6 922 602.5 924 602.4 926 602.3 928 602.1 930 602.0 932 601.9 934 601.8 936 601.6 938 601.5 940 601.5 942 602.3 944 603.0 946 603.8 948 604.6 950 605.3 952 606.1 954 606.9 956 607.6 958 608.4 960 609.1 962 609.8 964 610.1 966 610.4 968 610.7 970 611.0 972 611.3 974 611.6 976 611.9 978 612.2 980 612.4 982 612.7 984 613.0 986 613.3 988 613.6 990 613.9 992 614.2 994 614.3M590 556.8 592 557.1 594 557.7 596 558.3 598 558.9 600 559.5 602 560.0 604 560.6 606 558.8M608 556.2 610 556.8 612 557.3 614 557.9 616 558.5 618 559.1 620 559.7 622 560.3 624 560.8 626 561.4 628 562.0 630 562.6 632 563.2 634 563.7 636 564.3 638 564.9 640 565.5 642 566.1 644 566.6 646 567.2 648 567.8 650 568.4 652 569.0 654 569.6 656 570.1 658 570.7 660 571.3 662 571.9 664 572.5 666 570.9M668 568.3 670 567.7 672 568.4 674 569.0 676 569.6 678 570.2 680 570.9 682 571.5 684 572.1 686 572.7 688 573.4 690 574.0 692 574.6 694 575.2 696 575.8 698 576.5 700 577.1 702 577.1M704 574.0M706 570.8M708 568.2 710 568.8 712 569.3 714 569.8 716 570.4 718 570.9 720 571.5 722 572.0 724 572.5 726 573.1 728 573.6 730 574.2 732 574.7 734 575.3 736 575.8 738 576.3 740 576.9 742 577.4 744 578.0 746 578.5 748 579.0 750 579.2 752 577.2 754 575.2 756 573.6 758 574.2 760 574.8 762 575.4 764 576.0 766 576.5 768 577.1 770 577.7 772 578.3 774 578.9 776 579.5 778 580.0 780 580.6 782 581.2 784 581.8 786 582.4 788 582.9 790 583.5 792 584.1 794 584.7 796 585.3 798 585.7 800 585.5 802 585.2 804 585.0 806 584.7 808 584.5 810 584.2 812 584.0 814 583.7 816 583.5 818 583.2 820 583.0 822 582.7 824 583.1 826 583.7 828 584.3 830 585.0 832 585.6 834 586.3 836 586.9 838 587.6 840 588.2 842 588.9 844 589.5 846 590.1 848 590.8 850 591.4 852 591.9 854 592.4 856 592.9 858 593.4 860 593.9 862 594.4 864 594.9 866 595.4 868 595.9 870 596.4 872 596.9 874 597.4 876 597.9 878 598.4 880 598.9 882 599.4 884 599.9 886 600.4 888 601.0 890 602.5 892 603.9 894 605.4 896 606.9 898 608.3 900 609.8 902 611.0 904 610.9 906 610.8 908 610.7 910 610.5 912 610.4 914 610.3 916 610.2 918 610.1 920 609.9 922 609.8 924 609.7 926 609.6 928 609.4 930 609.3 932 609.2 934 609.1 936 609.0 938 608.8 940 608.9 942 609.6 944 610.4 946 611.1 948 611.9 950 612.7 952 613.4 954 614.2 956 615.0 958 615.7 960 616.5 962 617.2 964 617.5 966 617.8 968 618.1 970 618.4 972 618.7 974 618.9 976 619.2 978 619.5 980 619.8 982 620.1 984 620.4 986 620.7 988 621.0 990 621.3 992 621.6 994 621.7M590 563.0 592 563.4 594 564.0 596 564.6 598 565.1 600 565.7 602 566.3 604 566.9 606 565.1M608 562.5 610 563.0 612 563.6 614 564.2 616 564.8 618 565.4 620 566.0 622 566.6 624 567.1 626 567.7 628 568.3 630 568.9 632 569.5 634 570.1 636 570.6 638 571.2 640 571.8 642 572.4 644 573.0 646 573.6 648 574.1 650 574.7 652 575.3 654 575.9 656 576.5 658 577.1 660 577.7 662 578.2 664 578.8 666 577.3M668 574.6 670 574.1 672 574.7 674 575.4 676 576.0 678 576.6 680 577.3 682 577.9 684 578.5 686 579.1 688 579.8 690 580.4 692 581.0 694 581.6 696 582.3 698 582.9 700 583.5 702 583.6M704 580.4M706 577.3M708 574.7 710 575.2 712 575.7 714 576.3 716 576.8 718 577.4 720 577.9 722 578.5 724 579.0 726 579.6 728 580.1 730 580.6 732 581.2 734 581.7 736 582.3 738 582.8 740 583.4 742 583.9 744 584.4 746 585.0 748 585.5 750 585.7 752 583.7 754 581.8 756 580.2 758 580.8 760 581.4 762 582.0 764 582.6 766 583.2 768 583.8 770 584.3 772 584.9 774 585.5 776 586.1 778 586.7 780 587.3 782 587.9 784 588.5 786 589.1 788 589.7 790 590.3 792 590.9 794 591.5 796 592.1 798 592.6 800 592.3 802 592.1 804 591.9 806 591.6 808 591.4 810 591.2 812 590.9 814 590.7 816 590.4 818 590.2 820 590.0 822 589.7 824 590.1 826 590.7 828 591.4 830 592.1 832 592.7 834 593.4 836 594.0 838 594.7 840 595.3 842 596.0 844 596.7 846 597.3 848 598.0 850 598.6 852 599.1 854 599.6 856 600.1 858 600.6 860 601.1 862 601.6 864 602.1 866 602.6 868 603.1 870 603.6 872 604.1 874 604.6 876 605.1 878 605.6 880 606.1 882 606.6 884 607.1 886 607.6 888 608.3 890 609.7 892 611.2 894 612.7 896 614.1 898 615.6 900 617.1 902 618.3 904 618.2 906 618.1 908 617.9 910 617.8 912 617.7 914 617.6 916 617.5 918 617.4 920 617.2 922 617.1 924 617.0 926 616.9 928 616.8 930 616.6 932 616.5 934 616.4 936 616.3 938 616.2 940 616.2 942 616.9 944 617.7 946 618.5 948 619.2 950 620.0 952 620.8 954 621.5 956 622.3 958 623.1 960 623.8 962 624.5 964 624.8 966 625.1 968 625.4 970 625.7 972 626.0 974 626.3 976 626.6 978 626.9 980 627.2 982 627.5 984 627.8 986 628.1 988 628.4 990 628.7 992 629.0 994 629.1M590 569.2 592 569.6 594 570.2 596 570.8 598 571.4 600 572.0 602 572.6 604 573.2 606 571.3M608 568.7 610 569.3 612 569.9 614 570.5 616 571.1 618 571.7 620 572.3 622 572.9 624 573.4 626 574.0 628 574.6 630 575.2 632 575.8 634 576.4 636 577.0 638 577.6 640 578.1 642 578.7 644 579.3 646 579.9 648 580.5 650 581.1 652 581.7 654 582.3 656 582.8 658 583.4 660 584.0 662 584.6 664 585.2 666 583.7M668 581.0 670 580.5 672 581.1 674 581.8 676 582.4 678 583.0 680 583.6 682 584.3 684 584.9 686 585.5 688 586.2 690 586.8 692 587.4 694 588.0 696 588.7 698 589.3 700 589.9 702 590.0M704 586.8M706 583.7M708 581.1 710 581.6 712 582.2 714 582.7 716 583.3 718 583.8 720 584.4 722 584.9 724 585.5 726 586.0 728 586.6 730 587.1 732 587.7 734 588.2 736 588.8 738 589.3 740 589.8 742 590.4 744 590.9 746 591.5 748 592.0 750 592.2 752 590.2 754 588.3 756 586.7 758 587.3 760 587.9 762 588.6 764 589.2 766 589.8 768 590.4 770 591.0 772 591.6 774 592.2 776 592.8 778 593.4 780 594.0 782 594.7 784 595.3 786 595.9 788 596.5 790 597.1 792 597.7 794 598.3 796 598.9 798 599.4 800 599.2 802 599.0 804 598.7 806 598.5 808 598.3 810 598.1 812 597.9 814 597.6 816 597.4 818 597.2 820 597.0 822 596.7 824 597.1 826 597.8 828 598.4 830 599.1 832 599.8 834 600.5 836 601.1 838 601.8 840 602.5 842 603.1 844 603.8 846 604.5 848 605.2 850 605.8 852 606.3 854 606.8 856 607.3 858 607.8 860 608.3 862 608.8 864 609.3 866 609.8 868 610.3 870 610.8 872 611.3 874 611.8 876 612.4 878 612.9 880 613.4 882 613.9 884 614.4 886 614.9 888 615.5 890 617.0 892 618.5 894 619.9 896 621.4 898 622.9 900 624.3 902 625.6 904 625.5 906 625.3 908 625.2 910 625.1 912 625.0 914 624.9 916 624.8 918 624.6 920 624.5 922 624.4 924 624.3 926 624.2 928 624.1 930 624.0 932 623.8 934 623.7 936 623.6 938 623.5 940 623.5 942 624.3 944 625.0 946 625.8 948 626.6 950 627.3 952 628.1 954 628.9 956 629.7 958 630.4 960 631.2 962 631.9 964 632.2 966 632.5 968 632.8 970 633.1 972 633.4 974 633.7 976 634.0 978 634.3 980 634.6 982 634.9 984 635.2 986 635.5 988 635.8 990 636.1 992 636.4 994 636.5" stroke="url(#sdark)" stroke-width="3.0" stroke-opacity="0.9"/>
<g stroke="url(#sbright)" stroke-width="2.3" stroke-opacity="0.95"><path id="bp" d="M590 434.9 592 435.2 594 435.7 596 436.3 598 436.8 600 437.3 602 437.8 604 438.3 606 436.4M608 433.8 610 434.3 612 434.8 614 435.3 616 435.9 618 436.4 620 436.9 622 437.4 624 437.9 626 438.5 628 439.0 630 439.5 632 440.0 634 440.5 636 441.1 638 441.6 640 442.1 642 442.6 644 443.1 646 443.7 648 444.2 650 444.7 652 445.2 654 445.7 656 446.3 658 446.8 660 447.3 662 447.8 664 448.3 666 446.8M668 444.0 670 443.4 672 444.0 674 444.6 676 445.1 678 445.7 680 446.2 682 446.8 684 447.4 686 447.9 688 448.5 690 449.1 692 449.6 694 450.2 696 450.7 698 451.3 700 451.9 702 451.9M704 448.6M706 445.4M708 442.8 710 443.2 712 443.7 714 444.2 716 444.7 718 445.1 720 445.6 722 446.1 724 446.6 726 447.1 728 447.5 730 448.0 732 448.5 734 449.0 736 449.5 738 449.9 740 450.4 742 450.9 744 451.4 746 451.9 748 452.3 750 452.4 752 450.2 754 447.9 756 446.0 758 446.3 760 446.6 762 447.0 764 447.3 766 447.6 768 447.9 770 448.2 772 448.5 774 448.8 776 449.1 778 449.4 780 449.7 782 450.0 784 450.3 786 450.7 788 451.0 790 451.3 792 451.6 794 451.9 796 452.2 798 452.4 800 451.9 802 451.3 804 450.8 806 450.3 808 449.8 810 449.2 812 448.7 814 448.2 816 447.7 818 447.2 820 446.6 822 446.1 824 446.2 826 446.5 828 446.9 830 447.3 832 447.7 834 448.0 836 448.4 838 448.8 840 449.1 842 449.5 844 449.9 846 450.2 848 450.6 850 451.0 852 451.4 854 451.9 856 452.3 858 452.8 860 453.2 862 453.7 864 454.1 866 454.5 868 455.0 870 455.4 872 455.9 874 456.3 876 456.8 878 457.2 880 457.6 882 458.1 884 458.5 886 459.0 888 459.6 890 461.0 892 462.4 894 463.8 896 465.2 898 466.6 900 468.0 902 469.2 904 469.0 906 468.8 908 468.7 910 468.5 912 468.3 914 468.1 916 468.0 918 467.8 920 467.6 922 467.4 924 467.3 926 467.1 928 466.9 930 466.7 932 466.6 934 466.4 936 466.2 938 466.0 940 466.0 942 466.7 944 467.4 946 468.1 948 468.8 950 469.5 952 470.2 954 471.0 956 471.7 958 472.4 960 473.1 962 473.7 964 474.0 966 474.2 968 474.4 970 474.7 972 474.9 974 475.2 976 475.4 978 475.6 980 475.9 982 476.1 984 476.4 986 476.6 988 476.8 990 477.1 992 477.3 994 477.4M590 441.1 592 441.5 594 442.0 596 442.5 598 443.0 600 443.6 602 444.1 604 444.6 606 442.7M608 440.1 610 440.6 612 441.1 614 441.6 616 442.1 618 442.7 620 443.2 622 443.7 624 444.2 626 444.8 628 445.3 630 445.8 632 446.3 634 446.9 636 447.4 638 447.9 640 448.4 642 448.9 644 449.5 646 450.0 648 450.5 650 451.0 652 451.6 654 452.1 656 452.6 658 453.1 660 453.7 662 454.2 664 454.7 666 453.1M668 450.4 670 449.8 672 450.4 674 450.9 676 451.5 678 452.1 680 452.6 682 453.2 684 453.8 686 454.3 688 454.9 690 455.5 692 456.0 694 456.6 696 457.2 698 457.7 700 458.3 702 458.3M704 455.1M706 451.8M708 449.2 710 449.7 712 450.2 714 450.6 716 451.1 718 451.6 720 452.1 722 452.6 724 453.0 726 453.5 728 454.0 730 454.5 732 455.0 734 455.5 736 455.9 738 456.4 740 456.9 742 457.4 744 457.9 746 458.4 748 458.8 750 458.9 752 456.7 754 454.4 756 452.6 758 452.9 760 453.2 762 453.5 764 453.9 766 454.2 768 454.5 770 454.8 772 455.2 774 455.5 776 455.8 778 456.1 780 456.4 782 456.8 784 457.1 786 457.4 788 457.7 790 458.1 792 458.4 794 458.7 796 459.0 798 459.2 800 458.7 802 458.2 804 457.7 806 457.2 808 456.7 810 456.2 812 455.7 814 455.2 816 454.6 818 454.1 820 453.6 822 453.1 824 453.2 826 453.6 828 454.0 830 454.3 832 454.7 834 455.1 836 455.5 838 455.9 840 456.3 842 456.7 844 457.0 846 457.4 848 457.8 850 458.2 852 458.6 854 459.1 856 459.5 858 460.0 860 460.4 862 460.9 864 461.3 866 461.8 868 462.2 870 462.7 872 463.1 874 463.6 876 464.0 878 464.4 880 464.9 882 465.3 884 465.8 886 466.2 888 466.8 890 468.2 892 469.6 894 471.1 896 472.5 898 473.9 900 475.3 902 476.5 904 476.3 906 476.1 908 476.0 910 475.8 912 475.6 914 475.4 916 475.3 918 475.1 920 474.9 922 474.7 924 474.6 926 474.4 928 474.2 930 474.0 932 473.9 934 473.7 936 473.5 938 473.4 940 473.3 942 474.0 944 474.7 946 475.5 948 476.2 950 476.9 952 477.6 954 478.3 956 479.0 958 479.7 960 480.4 962 481.1 964 481.3 966 481.6 968 481.8 970 482.0 972 482.3 974 482.5 976 482.8 978 483.0 980 483.3 982 483.5 984 483.7 986 484.0 988 484.2 990 484.5 992 484.7 994 484.8M590 447.4 592 447.7 594 448.2 596 448.8 598 449.3 600 449.8 602 450.4 604 450.9 606 449.0M608 446.3 610 446.9 612 447.4 614 447.9 616 448.4 618 449.0 620 449.5 622 450.0 624 450.5 626 451.1 628 451.6 630 452.1 632 452.6 634 453.2 636 453.7 638 454.2 640 454.8 642 455.3 644 455.8 646 456.3 648 456.9 650 457.4 652 457.9 654 458.4 656 459.0 658 459.5 660 460.0 662 460.5 664 461.1 666 459.5M668 456.8 670 456.2 672 456.8 674 457.3 676 457.9 678 458.5 680 459.0 682 459.6 684 460.2 686 460.7 688 461.3 690 461.9 692 462.4 694 463.0 696 463.6 698 464.1 700 464.7 702 464.7M704 461.5M706 458.3M708 455.6 710 456.1 712 456.6 714 457.1 716 457.6 718 458.0 720 458.5 722 459.0 724 459.5 726 460.0 728 460.5 730 461.0 732 461.5 734 461.9 736 462.4 738 462.9 740 463.4 742 463.9 744 464.4 746 464.9 748 465.3 750 465.4 752 463.2 754 461.0 756 459.1 758 459.4 760 459.8 762 460.1 764 460.5 766 460.8 768 461.1 770 461.5 772 461.8 774 462.1 776 462.5 778 462.8 780 463.2 782 463.5 784 463.8 786 464.2 788 464.5 790 464.8 792 465.2 794 465.5 796 465.9 798 466.1 800 465.6 802 465.1 804 464.6 806 464.1 808 463.6 810 463.1 812 462.6 814 462.1 816 461.6 818 461.1 820 460.6 822 460.1 824 460.2 826 460.6 828 461.0 830 461.4 832 461.8 834 462.2 836 462.6 838 463.0 840 463.4 842 463.8 844 464.2 846 464.6 848 465.0 850 465.4 852 465.8 854 466.3 856 466.7 858 467.2 860 467.6 862 468.1 864 468.5 866 469.0 868 469.4 870 469.9 872 470.3 874 470.8 876 471.2 878 471.7 880 472.1 882 472.6 884 473.0 886 473.5 888 474.1 890 475.5 892 476.9 894 478.3 896 479.7 898 481.2 900 482.6 902 483.7 904 483.6 906 483.4 908 483.2 910 483.1 912 482.9 914 482.7 916 482.6 918 482.4 920 482.2 922 482.0 924 481.9 926 481.7 928 481.5 930 481.4 932 481.2 934 481.0 936 480.8 938 480.7 940 480.6 942 481.4 944 482.1 946 482.8 948 483.5 950 484.2 952 484.9 954 485.6 956 486.4 958 487.1 960 487.8 962 488.4 964 488.7 966 488.9 968 489.2 970 489.4 972 489.7 974 489.9 976 490.2 978 490.4 980 490.6 982 490.9 984 491.1 986 491.4 988 491.6 990 491.9 992 492.1 994 492.2M590 453.6 592 454.0 594 454.5 596 455.0 598 455.6 600 456.1 602 456.6 604 457.2 606 455.3M608 452.6 610 453.1 612 453.7 614 454.2 616 454.7 618 455.3 620 455.8 622 456.3 624 456.8 626 457.4 628 457.9 630 458.4 632 459.0 634 459.5 636 460.0 638 460.6 640 461.1 642 461.6 644 462.1 646 462.7 648 463.2 650 463.7 652 464.3 654 464.8 656 465.3 658 465.8 660 466.4 662 466.9 664 467.4 666 465.9M668 463.1 670 462.6 672 463.1 674 463.7 676 464.3 678 464.9 680 465.4 682 466.0 684 466.6 686 467.1 688 467.7 690 468.3 692 468.8 694 469.4 696 470.0 698 470.6 700 471.1 702 471.1M704 467.9M706 464.7M708 462.1 710 462.5 712 463.0 714 463.5 716 464.0 718 464.5 720 465.0 722 465.5 724 466.0 726 466.5 728 466.9 730 467.4 732 467.9 734 468.4 736 468.9 738 469.4 740 469.9 742 470.4 744 470.9 746 471.3 748 471.8 750 471.9 752 469.7 754 467.5 756 465.7 758 466.0 760 466.4 762 466.7 764 467.1 766 467.4 768 467.8 770 468.1 772 468.5 774 468.8 776 469.2 778 469.5 780 469.9 782 470.2 784 470.6 786 470.9 788 471.3 790 471.6 792 472.0 794 472.3 796 472.7 798 472.9 800 472.4 802 471.9 804 471.5 806 471.0 808 470.5 810 470.0 812 469.5 814 469.1 816 468.6 818 468.1 820 467.6 822 467.1 824 467.2 826 467.6 828 468.1 830 468.5 832 468.9 834 469.3 836 469.7 838 470.1 840 470.5 842 470.9 844 471.4 846 471.8 848 472.2 850 472.6 852 473.1 854 473.5 856 474.0 858 474.4 860 474.9 862 475.3 864 475.8 866 476.2 868 476.7 870 477.1 872 477.6 874 478.0 876 478.5 878 478.9 880 479.4 882 479.8 884 480.3 886 480.7 888 481.3 890 482.7 892 484.2 894 485.6 896 487.0 898 488.4 900 489.8 902 491.0 904 490.9 906 490.7 908 490.5 910 490.3 912 490.2 914 490.0 916 489.8 918 489.7 920 489.5 922 489.3 924 489.2 926 489.0 928 488.8 930 488.7 932 488.5 934 488.3 936 488.2 938 488.0 940 488.0 942 488.7 944 489.4 946 490.1 948 490.8 950 491.6 952 492.3 954 493.0 956 493.7 958 494.4 960 495.1 962 495.8 964 496.0 966 496.3 968 496.5 970 496.8 972 497.0 974 497.3 976 497.5 978 497.8 980 498.0 982 498.3 984 498.5 986 498.8 988 499.0 990 499.3 992 499.5 994 499.6M590 459.9 592 460.2 594 460.8 596 461.3 598 461.8 600 462.4 602 462.9 604 463.4 606 461.5M608 458.9 610 459.4 612 460.0 614 460.5 616 461.0 618 461.6 620 462.1 622 462.6 624 463.1 626 463.7 628 464.2 630 464.7 632 465.3 634 465.8 636 466.3 638 466.9 640 467.4 642 467.9 644 468.5 646 469.0 648 469.5 650 470.1 652 470.6 654 471.1 656 471.7 658 472.2 660 472.7 662 473.3 664 473.8 666 472.2M668 469.5 670 468.9 672 469.5 674 470.1 676 470.7 678 471.2 680 471.8 682 472.4 684 473.0 686 473.5 688 474.1 690 474.7 692 475.3 694 475.8 696 476.4 698 477.0 700 477.6 702 477.6M704 474.3M706 471.1M708 468.5 710 469.0 712 469.5 714 470.0 716 470.5 718 470.9 720 471.4 722 471.9 724 472.4 726 472.9 728 473.4 730 473.9 732 474.4 734 474.9 736 475.4 738 475.9 740 476.4 742 476.9 744 477.3 746 477.8 748 478.3 750 478.4 752 476.2 754 474.0 756 472.2 758 472.6 760 472.9 762 473.3 764 473.7 766 474.0 768 474.4 770 474.8 772 475.1 774 475.5 776 475.8 778 476.2 780 476.6 782 476.9 784 477.3 786 477.7 788 478.0 790 478.4 792 478.8 794 479.1 796 479.5 798 479.7 800 479.3 802 478.8 804 478.3 806 477.9 808 477.4 810 476.9 812 476.5 814 476.0 816 475.5 818 475.1 820 474.6 822 474.1 824 474.2 826 474.7 828 475.1 830 475.5 832 476.0 834 476.4 836 476.8 838 477.2 840 477.7 842 478.1 844 478.5 846 478.9 848 479.4 850 479.8 852 480.3 854 480.7 856 481.2 858 481.6 860 482.1 862 482.5 864 483.0 866 483.4 868 483.9 870 484.3 872 484.8 874 485.3 876 485.7 878 486.2 880 486.6 882 487.1 884 487.5 886 488.0 888 488.6 890 490.0 892 491.4 894 492.8 896 494.3 898 495.7 900 497.1 902 498.3 904 498.1 906 498.0 908 497.8 910 497.6 912 497.5 914 497.3 916 497.1 918 497.0 920 496.8 922 496.6 924 496.5 926 496.3 928 496.1 930 496.0 932 495.8 934 495.7 936 495.5 938 495.3 940 495.3 942 496.0 944 496.7 946 497.5 948 498.2 950 498.9 952 499.6 954 500.3 956 501.1 958 501.8 960 502.5 962 503.1 964 503.4 966 503.6 968 503.9 970 504.2 972 504.4 974 504.7 976 504.9 978 505.2 980 505.4 982 505.7 984 505.9 986 506.2 988 506.4 990 506.7 992 506.9 994 507.0M590 466.1 592 466.5 594 467.0 596 467.6 598 468.1 600 468.6 602 469.2 604 469.7 606 467.8M608 465.2 610 465.7 612 466.2 614 466.8 616 467.3 618 467.8 620 468.4 622 468.9 624 469.5 626 470.0 628 470.5 630 471.1 632 471.6 634 472.1 636 472.7 638 473.2 640 473.7 642 474.3 644 474.8 646 475.3 648 475.9 650 476.4 652 476.9 654 477.5 656 478.0 658 478.6 660 479.1 662 479.6 664 480.2 666 478.6M668 475.9 670 475.3 672 475.9 674 476.5 676 477.0 678 477.6 680 478.2 682 478.8 684 479.4 686 479.9 688 480.5 690 481.1 692 481.7 694 482.2 696 482.8 698 483.4 700 484.0 702 484.0M704 480.8M706 477.6M708 474.9 710 475.4 712 475.9 714 476.4 716 476.9 718 477.4 720 477.9 722 478.4 724 478.9 726 479.4 728 479.9 730 480.4 732 480.9 734 481.4 736 481.9 738 482.4 740 482.8 742 483.3 744 483.8 746 484.3 748 484.8 750 484.9 752 482.7 754 480.5 756 478.7 758 479.1 760 479.5 762 479.9 764 480.3 766 480.6 768 481.0 770 481.4 772 481.8 774 482.2 776 482.5 778 482.9 780 483.3 782 483.7 784 484.0 786 484.4 788 484.8 790 485.2 792 485.6 794 485.9 796 486.3 798 486.6 800 486.1 802 485.7 804 485.2 806 484.8 808 484.3 810 483.9 812 483.4 814 483.0 816 482.5 818 482.0 820 481.6 822 481.1 824 481.3 826 481.7 828 482.2 830 482.6 832 483.0 834 483.5 836 483.9 838 484.4 840 484.8 842 485.2 844 485.7 846 486.1 848 486.6 850 487.0 852 487.5 854 487.9 856 488.4 858 488.8 860 489.3 862 489.7 864 490.2 866 490.7 868 491.1 870 491.6 872 492.0 874 492.5 876 492.9 878 493.4 880 493.9 882 494.3 884 494.8 886 495.2 888 495.8 890 497.3 892 498.7 894 500.1 896 501.5 898 503.0 900 504.4 902 505.6 904 505.4 906 505.2 908 505.1 910 504.9 912 504.8 914 504.6 916 504.4 918 504.3 920 504.1 922 503.9 924 503.8 926 503.6 928 503.5 930 503.3 932 503.1 934 503.0 936 502.8 938 502.6 940 502.6 942 503.3 944 504.1 946 504.8 948 505.5 950 506.2 952 507.0 954 507.7 956 508.4 958 509.1 960 509.9 962 510.5 964 510.8 966 511.0 968 511.3 970 511.5 972 511.8 974 512.0 976 512.3 978 512.5 980 512.8 982 513.0 984 513.3 986 513.5 988 513.8 990 514.1 992 514.3 994 514.4M590 472.4 592 472.7 594 473.3 596 473.8 598 474.4 600 474.9 602 475.4 604 476.0 606 474.1M608 471.4 610 472.0 612 472.5 614 473.1 616 473.6 618 474.1 620 474.7 622 475.2 624 475.8 626 476.3 628 476.8 630 477.4 632 477.9 634 478.4 636 479.0 638 479.5 640 480.1 642 480.6 644 481.1 646 481.7 648 482.2 650 482.8 652 483.3 654 483.8 656 484.4 658 484.9 660 485.5 662 486.0 664 486.5 666 485.0M668 482.3 670 481.7 672 482.3 674 482.9 676 483.4 678 484.0 680 484.6 682 485.2 684 485.8 686 486.3 688 486.9 690 487.5 692 488.1 694 488.7 696 489.2 698 489.8 700 490.4 702 490.4M704 487.2M706 484.0M708 481.4 710 481.9 712 482.4 714 482.9 716 483.4 718 483.8 720 484.3 722 484.8 724 485.3 726 485.8 728 486.3 730 486.8 732 487.3 734 487.8 736 488.3 738 488.8 740 489.3 742 489.8 744 490.3 746 490.8 748 491.3 750 491.4 752 489.3 754 487.1 756 485.3 758 485.7 760 486.1 762 486.5 764 486.9 766 487.3 768 487.6 770 488.0 772 488.4 774 488.8 776 489.2 778 489.6 780 490.0 782 490.4 784 490.8 786 491.2 788 491.6 790 492.0 792 492.4 794 492.8 796 493.1 798 493.4 800 493.0 802 492.5 804 492.1 806 491.7 808 491.2 810 490.8 812 490.3 814 489.9 816 489.5 818 489.0 820 488.6 822 488.1 824 488.3 826 488.7 828 489.2 830 489.7 832 490.1 834 490.6 836 491.0 838 491.5 840 491.9 842 492.4 844 492.8 846 493.3 848 493.7 850 494.2 852 494.7 854 495.1 856 495.6 858 496.0 860 496.5 862 497.0 864 497.4 866 497.9 868 498.3 870 498.8 872 499.3 874 499.7 876 500.2 878 500.6 880 501.1 882 501.6 884 502.0 886 502.5 888 503.1 890 504.5 892 505.9 894 507.4 896 508.8 898 510.2 900 511.7 902 512.8 904 512.7 906 512.5 908 512.4 910 512.2 912 512.0 914 511.9 916 511.7 918 511.6 920 511.4 922 511.2 924 511.1 926 510.9 928 510.8 930 510.6 932 510.5 934 510.3 936 510.1 938 510.0 940 509.9 942 510.7 944 511.4 946 512.1 948 512.8 950 513.6 952 514.3 954 515.0 956 515.8 958 516.5 960 517.2 962 517.9 964 518.1 966 518.4 968 518.6 970 518.9 972 519.1 974 519.4 976 519.7 978 519.9 980 520.2 982 520.4 984 520.7 986 520.9 988 521.2 990 521.5 992 521.7 994 521.8M590 478.6 592 479.0 594 479.5 596 480.1 598 480.6 600 481.2 602 481.7 604 482.2 606 480.4M608 477.7 610 478.3 612 478.8 614 479.3 616 479.9 618 480.4 620 481.0 622 481.5 624 482.1 626 482.6 628 483.1 630 483.7 632 484.2 634 484.8 636 485.3 638 485.8 640 486.4 642 486.9 644 487.5 646 488.0 648 488.6 650 489.1 652 489.6 654 490.2 656 490.7 658 491.3 660 491.8 662 492.4 664 492.9 666 491.3M668 488.6 670 488.1 672 488.6 674 489.2 676 489.8 678 490.4 680 491.0 682 491.6 684 492.1 686 492.7 688 493.3 690 493.9 692 494.5 694 495.1 696 495.6 698 496.2 700 496.8 702 496.8M704 493.6M706 490.4M708 487.8 710 488.3 712 488.8 714 489.3 716 489.8 718 490.3 720 490.8 722 491.3 724 491.8 726 492.3 728 492.8 730 493.3 732 493.8 734 494.3 736 494.8 738 495.3 740 495.8 742 496.3 744 496.8 746 497.3 748 497.8 750 497.9 752 495.8 754 493.6 756 491.8 758 492.2 760 492.6 762 493.1 764 493.5 766 493.9 768 494.3 770 494.7 772 495.1 774 495.5 776 495.9 778 496.3 780 496.7 782 497.1 784 497.5 786 497.9 788 498.3 790 498.8 792 499.2 794 499.6 796 500.0 798 500.3 800 499.8 802 499.4 804 499.0 806 498.6 808 498.1 810 497.7 812 497.3 814 496.9 816 496.4 818 496.0 820 495.6 822 495.2 824 495.3 826 495.8 828 496.2 830 496.7 832 497.2 834 497.7 836 498.1 838 498.6 840 499.1 842 499.5 844 500.0 846 500.5 848 500.9 850 501.4 852 501.9 854 502.3 856 502.8 858 503.3 860 503.7 862 504.2 864 504.6 866 505.1 868 505.6 870 506.0 872 506.5 874 507.0 876 507.4 878 507.9 880 508.3 882 508.8 884 509.3 886 509.7 888 510.3 890 511.8 892 513.2 894 514.6 896 516.1 898 517.5 900 518.9 902 520.1 904 520.0 906 519.8 908 519.6 910 519.5 912 519.3 914 519.2 916 519.0 918 518.9 920 518.7 922 518.5 924 518.4 926 518.2 928 518.1 930 517.9 932 517.8 934 517.6 936 517.5 938 517.3 940 517.3 942 518.0 944 518.7 946 519.5 948 520.2 950 520.9 952 521.6 954 522.4 956 523.1 958 523.8 960 524.6 962 525.2 964 525.5 966 525.7 968 526.0 970 526.3 972 526.5 974 526.8 976 527.0 978 527.3 980 527.6 982 527.8 984 528.1 986 528.3 988 528.6 990 528.8 992 529.1 994 529.2M590 484.9 592 485.2 594 485.8 596 486.3 598 486.9 600 487.4 602 488.0 604 488.5 606 486.6M608 484.0 610 484.5 612 485.1 614 485.6 616 486.2 618 486.7 620 487.3 622 487.8 624 488.4 626 488.9 628 489.4 630 490.0 632 490.5 634 491.1 636 491.6 638 492.2 640 492.7 642 493.3 644 493.8 646 494.4 648 494.9 650 495.4 652 496.0 654 496.5 656 497.1 658 497.6 660 498.2 662 498.7 664 499.3 666 497.7M668 495.0 670 494.4 672 495.0 674 495.6 676 496.2 678 496.8 680 497.4 682 498.0 684 498.5 686 499.1 688 499.7 690 500.3 692 500.9 694 501.5 696 502.1 698 502.7 700 503.2 702 503.3M704 500.1M706 496.9M708 494.2 710 494.7 712 495.2 714 495.7 716 496.2 718 496.8 720 497.3 722 497.8 724 498.3 726 498.8 728 499.3 730 499.8 732 500.3 734 500.8 736 501.3 738 501.8 740 502.3 742 502.8 744 503.3 746 503.8 748 504.3 750 504.4 752 502.3 754 500.1 756 498.4 758 498.8 760 499.2 762 499.6 764 500.1 766 500.5 768 500.9 770 501.3 772 501.7 774 502.2 776 502.6 778 503.0 780 503.4 782 503.8 784 504.3 786 504.7 788 505.1 790 505.5 792 506.0 794 506.4 796 506.8 798 507.1 800 506.7 802 506.3 804 505.9 806 505.4 808 505.0 810 504.6 812 504.2 814 503.8 816 503.4 818 503.0 820 502.6 822 502.2 824 502.3 826 502.8 828 503.3 830 503.8 832 504.3 834 504.7 836 505.2 838 505.7 840 506.2 842 506.7 844 507.2 846 507.6 848 508.1 850 508.6 852 509.1 854 509.5 856 510.0 858 510.5 860 510.9 862 511.4 864 511.9 866 512.3 868 512.8 870 513.3 872 513.7 874 514.2 876 514.7 878 515.1 880 515.6 882 516.1 884 516.5 886 517.0 888 517.6 890 519.0 892 520.5 894 521.9 896 523.3 898 524.8 900 526.2 902 527.4 904 527.2 906 527.1 908 526.9 910 526.8 912 526.6 914 526.5 916 526.3 918 526.2 920 526.0 922 525.8 924 525.7 926 525.5 928 525.4 930 525.2 932 525.1 934 524.9 936 524.8 938 524.6 940 524.6 942 525.3 944 526.1 946 526.8 948 527.5 950 528.3 952 529.0 954 529.7 956 530.5 958 531.2 960 531.9 962 532.6 964 532.8 966 533.1 968 533.4 970 533.6 972 533.9 974 534.1 976 534.4 978 534.7 980 534.9 982 535.2 984 535.5 986 535.7 988 536.0 990 536.2 992 536.5 994 536.6M590 491.1 592 491.5 594 492.0 596 492.6 598 493.1 600 493.7 602 494.2 604 494.8 606 492.9M608 490.3 610 490.8 612 491.4 614 491.9 616 492.5 618 493.0 620 493.6 622 494.1 624 494.7 626 495.2 628 495.8 630 496.3 632 496.9 634 497.4 636 497.9 638 498.5 640 499.0 642 499.6 644 500.1 646 500.7 648 501.2 650 501.8 652 502.3 654 502.9 656 503.4 658 504.0 660 504.5 662 505.1 664 505.6 666 504.1M668 501.4 670 500.8 672 501.4 674 502.0 676 502.6 678 503.2 680 503.8 682 504.4 684 504.9 686 505.5 688 506.1 690 506.7 692 507.3 694 507.9 696 508.5 698 509.1 700 509.7 702 509.7M704 506.5M706 503.3M708 500.7 710 501.2 712 501.7 714 502.2 716 502.7 718 503.2 720 503.7 722 504.2 724 504.7 726 505.2 728 505.7 730 506.2 732 506.8 734 507.3 736 507.8 738 508.3 740 508.8 742 509.3 744 509.8 746 510.3 748 510.8 750 510.9 752 508.8 754 506.7 756 504.9 758 505.4 760 505.8 762 506.2 764 506.7 766 507.1 768 507.5 770 508.0 772 508.4 774 508.8 776 509.3 778 509.7 780 510.1 782 510.6 784 511.0 786 511.4 788 511.9 790 512.3 792 512.8 794 513.2 796 513.6 798 513.9 800 513.5 802 513.1 804 512.7 806 512.3 808 511.9 810 511.5 812 511.2 814 510.8 816 510.4 818 510.0 820 509.6 822 509.2 824 509.4 826 509.8 828 510.3 830 510.8 832 511.3 834 511.8 836 512.3 838 512.8 840 513.3 842 513.8 844 514.3 846 514.8 848 515.3 850 515.8 852 516.3 854 516.7 856 517.2 858 517.7 860 518.1 862 518.6 864 519.1 866 519.5 868 520.0 870 520.5 872 521.0 874 521.4 876 521.9 878 522.4 880 522.8 882 523.3 884 523.8 886 524.2 888 524.8 890 526.3 892 527.7 894 529.2 896 530.6 898 532.0 900 533.5 902 534.7 904 534.5 906 534.4 908 534.2 910 534.1 912 533.9 914 533.8 916 533.6 918 533.5 920 533.3 922 533.2 924 533.0 926 532.8 928 532.7 930 532.5 932 532.4 934 532.2 936 532.1 938 531.9 940 531.9 942 532.7 944 533.4 946 534.1 948 534.9 950 535.6 952 536.3 954 537.1 956 537.8 958 538.5 960 539.3 962 539.9 964 540.2 966 540.5 968 540.7 970 541.0 972 541.3 974 541.5 976 541.8 978 542.1 980 542.3 982 542.6 984 542.8 986 543.1 988 543.4 990 543.6 992 543.9 994 544.0M590 497.4 592 497.7 594 498.3 596 498.8 598 499.4 600 500.0 602 500.5 604 501.1 606 499.2M608 496.6 610 497.1 612 497.7 614 498.2 616 498.8 618 499.3 620 499.9 622 500.4 624 501.0 626 501.5 628 502.1 630 502.6 632 503.2 634 503.7 636 504.3 638 504.8 640 505.4 642 505.9 644 506.5 646 507.0 648 507.6 650 508.1 652 508.7 654 509.2 656 509.8 658 510.3 660 510.9 662 511.4 664 512.0 666 510.4M668 507.7 670 507.2 672 507.8 674 508.4 676 509.0 678 509.6 680 510.2 682 510.7 684 511.3 686 511.9 688 512.5 690 513.1 692 513.7 694 514.3 696 514.9 698 515.5 700 516.1 702 516.1M704 512.9M706 509.7M708 507.1 710 507.6 712 508.1 714 508.6 716 509.1 718 509.7 720 510.2 722 510.7 724 511.2 726 511.7 728 512.2 730 512.7 732 513.2 734 513.7 736 514.2 738 514.8 740 515.3 742 515.8 744 516.3 746 516.8 748 517.3 750 517.4 752 515.3 754 513.2 756 511.5 758 511.9 760 512.4 762 512.8 764 513.3 766 513.7 768 514.2 770 514.6 772 515.1 774 515.5 776 516.0 778 516.4 780 516.9 782 517.3 784 517.8 786 518.2 788 518.6 790 519.1 792 519.5 794 520.0 796 520.4 798 520.8 800 520.4 802 520.0 804 519.6 806 519.2 808 518.9 810 518.5 812 518.1 814 517.7 816 517.3 818 516.9 820 516.6 822 516.2 824 516.4 826 516.9 828 517.4 830 517.9 832 518.4 834 518.9 836 519.4 838 519.9 840 520.5 842 521.0 844 521.5 846 522.0 848 522.5 850 523.0 852 523.5 854 523.9 856 524.4 858 524.9 860 525.4 862 525.8 864 526.3 866 526.8 868 527.2 870 527.7 872 528.2 874 528.7 876 529.1 878 529.6 880 530.1 882 530.5 884 531.0 886 531.5 888 532.1 890 533.5 892 535.0 894 536.4 896 537.9 898 539.3 900 540.7 902 541.9 904 541.8 906 541.6 908 541.5 910 541.3 912 541.2 914 541.0 916 540.9 918 540.7 920 540.6 922 540.5 924 540.3 926 540.2 928 540.0 930 539.9 932 539.7 934 539.6 936 539.4 938 539.3 940 539.3 942 540.0 944 540.7 946 541.5 948 542.2 950 542.9 952 543.7 954 544.4 956 545.1 958 545.9 960 546.6 962 547.3 964 547.6 966 547.8 968 548.1 970 548.4 972 548.6 974 548.9 976 549.2 978 549.4 980 549.7 982 550.0 984 550.2 986 550.5 988 550.8 990 551.0 992 551.3 994 551.4M590 503.6 592 504.0 594 504.5 596 505.1 598 505.7 600 506.2 602 506.8 604 507.3 606 505.5M608 502.8 610 503.4 612 503.9 614 504.5 616 505.0 618 505.6 620 506.2 622 506.7 624 507.3 626 507.8 628 508.4 630 508.9 632 509.5 634 510.0 636 510.6 638 511.1 640 511.7 642 512.3 644 512.8 646 513.4 648 513.9 650 514.5 652 515.0 654 515.6 656 516.1 658 516.7 660 517.2 662 517.8 664 518.4 666 516.8M668 514.1 670 513.6 672 514.2 674 514.8 676 515.4 678 515.9 680 516.5 682 517.1 684 517.7 686 518.3 688 518.9 690 519.5 692 520.1 694 520.7 696 521.3 698 521.9 700 522.5 702 522.5M704 519.3M706 516.2M708 513.5 710 514.0 712 514.6 714 515.1 716 515.6 718 516.1 720 516.6 722 517.1 724 517.6 726 518.2 728 518.7 730 519.2 732 519.7 734 520.2 736 520.7 738 521.2 740 521.8 742 522.3 744 522.8 746 523.3 748 523.8 750 523.9 752 521.8 754 519.7 756 518.0 758 518.5 760 518.9 762 519.4 764 519.9 766 520.3 768 520.8 770 521.2 772 521.7 774 522.2 776 522.6 778 523.1 780 523.6 782 524.0 784 524.5 786 525.0 788 525.4 790 525.9 792 526.3 794 526.8 796 527.3 798 527.6 800 527.2 802 526.9 804 526.5 806 526.1 808 525.8 810 525.4 812 525.0 814 524.7 816 524.3 818 523.9 820 523.5 822 523.2 824 523.4 826 523.9 828 524.4 830 525.0 832 525.5 834 526.0 836 526.5 838 527.1 840 527.6 842 528.1 844 528.6 846 529.2 848 529.7 850 530.2 852 530.7 854 531.2 856 531.6 858 532.1 860 532.6 862 533.0 864 533.5 866 534.0 868 534.5 870 534.9 872 535.4 874 535.9 876 536.4 878 536.8 880 537.3 882 537.8 884 538.3 886 538.7 888 539.4 890 540.8 892 542.2 894 543.7 896 545.1 898 546.6 900 548.0 902 549.2 904 549.1 906 548.9 908 548.8 910 548.6 912 548.5 914 548.3 916 548.2 918 548.0 920 547.9 922 547.8 924 547.6 926 547.5 928 547.3 930 547.2 932 547.0 934 546.9 936 546.7 938 546.6 940 546.6 942 547.3 944 548.1 946 548.8 948 549.5 950 550.3 952 551.0 954 551.8 956 552.5 958 553.2 960 554.0 962 554.6 964 554.9 966 555.2 968 555.5 970 555.7 972 556.0 974 556.3 976 556.5 978 556.8 980 557.1 982 557.4 984 557.6 986 557.9 988 558.2 990 558.4 992 558.7 994 558.8M590 509.9 592 510.2 594 510.8 596 511.4 598 511.9 600 512.5 602 513.0 604 513.6 606 511.7M608 509.1 610 509.7 612 510.2 614 510.8 616 511.3 618 511.9 620 512.5 622 513.0 624 513.6 626 514.1 628 514.7 630 515.2 632 515.8 634 516.4 636 516.9 638 517.5 640 518.0 642 518.6 644 519.1 646 519.7 648 520.3 650 520.8 652 521.4 654 521.9 656 522.5 658 523.0 660 523.6 662 524.2 664 524.7 666 523.2M668 520.5 670 519.9 672 520.5 674 521.1 676 521.7 678 522.3 680 522.9 682 523.5 684 524.1 686 524.7 688 525.3 690 525.9 692 526.5 694 527.1 696 527.7 698 528.3 700 528.9 702 529.0M704 525.8M706 522.6M708 520.0 710 520.5 712 521.0 714 521.5 716 522.0 718 522.6 720 523.1 722 523.6 724 524.1 726 524.6 728 525.1 730 525.7 732 526.2 734 526.7 736 527.2 738 527.7 740 528.2 742 528.8 744 529.3 746 529.8 748 530.3 750 530.4 752 528.3 754 526.3 756 524.6 758 525.0 760 525.5 762 526.0 764 526.5 766 526.9 768 527.4 770 527.9 772 528.4 774 528.8 776 529.3 778 529.8 780 530.3 782 530.8 784 531.2 786 531.7 788 532.2 790 532.7 792 533.1 794 533.6 796 534.1 798 534.4 800 534.1 802 533.7 804 533.4 806 533.0 808 532.7 810 532.3 812 532.0 814 531.6 816 531.2 818 530.9 820 530.5 822 530.2 824 530.4 826 530.9 828 531.5 830 532.0 832 532.6 834 533.1 836 533.6 838 534.2 840 534.7 842 535.3 844 535.8 846 536.3 848 536.9 850 537.4 852 537.9 854 538.4 856 538.8 858 539.3 860 539.8 862 540.3 864 540.7 866 541.2 868 541.7 870 542.2 872 542.6 874 543.1 876 543.6 878 544.1 880 544.6 882 545.0 884 545.5 886 546.0 888 546.6 890 548.1 892 549.5 894 550.9 896 552.4 898 553.8 900 555.3 902 556.5 904 556.3 906 556.2 908 556.1 910 555.9 912 555.8 914 555.6 916 555.5 918 555.3 920 555.2 922 555.1 924 554.9 926 554.8 928 554.6 930 554.5 932 554.3 934 554.2 936 554.1 938 553.9 940 553.9 942 554.6 944 555.4 946 556.1 948 556.9 950 557.6 952 558.4 954 559.1 956 559.8 958 560.6 960 561.3 962 562.0 964 562.3 966 562.5 968 562.8 970 563.1 972 563.4 974 563.6 976 563.9 978 564.2 980 564.5 982 564.7 984 565.0 986 565.3 988 565.6 990 565.8 992 566.1 994 566.2M590 516.1 592 516.5 594 517.1 596 517.6 598 518.2 600 518.7 602 519.3 604 519.9 606 518.0M608 515.4 610 515.9 612 516.5 614 517.1 616 517.6 618 518.2 620 518.7 622 519.3 624 519.9 626 520.4 628 521.0 630 521.6 632 522.1 634 522.7 636 523.2 638 523.8 640 524.4 642 524.9 644 525.5 646 526.0 648 526.6 650 527.2 652 527.7 654 528.3 656 528.8 658 529.4 660 530.0 662 530.5 664 531.1 666 529.5M668 526.9 670 526.3 672 526.9 674 527.5 676 528.1 678 528.7 680 529.3 682 529.9 684 530.5 686 531.1 688 531.7 690 532.3 692 532.9 694 533.5 696 534.1 698 534.7 700 535.3 702 535.4M704 532.2M706 529.0M708 526.4 710 526.9 712 527.4 714 528.0 716 528.5 718 529.0 720 529.5 722 530.0 724 530.6 726 531.1 728 531.6 730 532.1 732 532.6 734 533.2 736 533.7 738 534.2 740 534.7 742 535.2 744 535.8 746 536.3 748 536.8 750 536.9 752 534.9 754 532.8 756 531.1 758 531.6 760 532.1 762 532.6 764 533.1 766 533.6 768 534.0 770 534.5 772 535.0 774 535.5 776 536.0 778 536.5 780 537.0 782 537.5 784 538.0 786 538.5 788 539.0 790 539.4 792 539.9 794 540.4 796 540.9 798 541.3 800 540.9 802 540.6 804 540.3 806 539.9 808 539.6 810 539.2 812 538.9 814 538.6 816 538.2 818 537.9 820 537.5 822 537.2 824 537.4 826 538.0 828 538.5 830 539.1 832 539.6 834 540.2 836 540.7 838 541.3 840 541.9 842 542.4 844 543.0 846 543.5 848 544.1 850 544.6 852 545.1 854 545.6 856 546.0 858 546.5 860 547.0 862 547.5 864 548.0 866 548.4 868 548.9 870 549.4 872 549.9 874 550.4 876 550.8 878 551.3 880 551.8 882 552.3 884 552.8 886 553.2 888 553.9 890 555.3 892 556.8 894 558.2 896 559.6 898 561.1 900 562.5 902 563.8 904 563.6 906 563.5 908 563.3 910 563.2 912 563.1 914 562.9 916 562.8 918 562.6 920 562.5 922 562.4 924 562.2 926 562.1 928 561.9 930 561.8 932 561.7 934 561.5 936 561.4 938 561.2 940 561.2 942 562.0 944 562.7 946 563.5 948 564.2 950 565.0 952 565.7 954 566.4 956 567.2 958 567.9 960 568.7 962 569.4 964 569.6 966 569.9 968 570.2 970 570.5 972 570.7 974 571.0 976 571.3 978 571.6 980 571.8 982 572.1 984 572.4 986 572.7 988 573.0 990 573.2 992 573.5 994 573.6M590 522.4 592 522.7 594 523.3 596 523.9 598 524.4 600 525.0 602 525.6 604 526.1 606 524.3M608 521.7 610 522.2 612 522.8 614 523.4 616 523.9 618 524.5 620 525.0 622 525.6 624 526.2 626 526.7 628 527.3 630 527.9 632 528.4 634 529.0 636 529.6 638 530.1 640 530.7 642 531.2 644 531.8 646 532.4 648 532.9 650 533.5 652 534.1 654 534.6 656 535.2 658 535.8 660 536.3 662 536.9 664 537.5 666 535.9M668 533.2 670 532.7 672 533.3 674 533.9 676 534.5 678 535.1 680 535.7 682 536.3 684 536.9 686 537.5 688 538.1 690 538.7 692 539.3 694 540.0 696 540.6 698 541.2 700 541.8 702 541.8M704 538.6M706 535.5M708 532.8 710 533.4 712 533.9 714 534.4 716 534.9 718 535.5 720 536.0 722 536.5 724 537.0 726 537.5 728 538.1 730 538.6 732 539.1 734 539.6 736 540.2 738 540.7 740 541.2 742 541.7 744 542.3 746 542.8 748 543.3 750 543.4 752 541.4 754 539.3 756 537.6 758 538.1 760 538.7 762 539.2 764 539.7 766 540.2 768 540.7 770 541.2 772 541.7 774 542.2 776 542.7 778 543.2 780 543.7 782 544.2 784 544.7 786 545.2 788 545.7 790 546.2 792 546.7 794 547.2 796 547.7 798 548.1 800 547.8 802 547.5 804 547.1 806 546.8 808 546.5 810 546.2 812 545.8 814 545.5 816 545.2 818 544.9 820 544.5 822 544.2 824 544.5 826 545.0 828 545.6 830 546.2 832 546.7 834 547.3 836 547.8 838 548.4 840 549.0 842 549.5 844 550.1 846 550.7 848 551.2 850 551.8 852 552.3 854 552.8 856 553.3 858 553.7 860 554.2 862 554.7 864 555.2 866 555.7 868 556.1 870 556.6 872 557.1 874 557.6 876 558.1 878 558.6 880 559.0 882 559.5 884 560.0 886 560.5 888 561.1 890 562.6 892 564.0 894 565.5 896 566.9 898 568.4 900 569.8 902 571.0 904 570.9 906 570.8 908 570.6 910 570.5 912 570.3 914 570.2 916 570.1 918 569.9 920 569.8 922 569.7 924 569.5 926 569.4 928 569.2 930 569.1 932 569.0 934 568.8 936 568.7 938 568.6 940 568.6 942 569.3 944 570.1 946 570.8 948 571.5 950 572.3 952 573.0 954 573.8 956 574.5 958 575.3 960 576.0 962 576.7 964 577.0 966 577.3 968 577.6 970 577.8 972 578.1 974 578.4 976 578.7 978 578.9 980 579.2 982 579.5 984 579.8 986 580.1 988 580.3 990 580.6 992 580.9 994 581.0M590 528.6 592 529.0 594 529.6 596 530.1 598 530.7 600 531.3 602 531.8 604 532.4 606 530.5M608 527.9 610 528.5 612 529.1 614 529.6 616 530.2 618 530.8 620 531.3 622 531.9 624 532.5 626 533.0 628 533.6 630 534.2 632 534.7 634 535.3 636 535.9 638 536.4 640 537.0 642 537.6 644 538.1 646 538.7 648 539.3 650 539.8 652 540.4 654 541.0 656 541.5 658 542.1 660 542.7 662 543.2 664 543.8 666 542.3M668 539.6 670 539.1 672 539.7 674 540.3 676 540.9 678 541.5 680 542.1 682 542.7 684 543.3 686 543.9 688 544.5 690 545.1 692 545.8 694 546.4 696 547.0 698 547.6 700 548.2 702 548.2M704 545.1M706 541.9M708 539.3 710 539.8 712 540.3 714 540.8 716 541.4 718 541.9 720 542.4 722 543.0 724 543.5 726 544.0 728 544.5 730 545.1 732 545.6 734 546.1 736 546.6 738 547.2 740 547.7 742 548.2 744 548.7 746 549.3 748 549.8 750 549.9 752 547.9 754 545.8 756 544.2 758 544.7 760 545.2 762 545.7 764 546.3 766 546.8 768 547.3 770 547.8 772 548.3 774 548.9 776 549.4 778 549.9 780 550.4 782 550.9 784 551.5 786 552.0 788 552.5 790 553.0 792 553.5 794 554.0 796 554.6 798 555.0 800 554.6 802 554.3 804 554.0 806 553.7 808 553.4 810 553.1 812 552.8 814 552.5 816 552.1 818 551.8 820 551.5 822 551.2 824 551.5 826 552.1 828 552.6 830 553.2 832 553.8 834 554.4 836 555.0 838 555.5 840 556.1 842 556.7 844 557.3 846 557.9 848 558.4 850 559.0 852 559.5 854 560.0 856 560.5 858 560.9 860 561.4 862 561.9 864 562.4 866 562.9 868 563.4 870 563.9 872 564.3 874 564.8 876 565.3 878 565.8 880 566.3 882 566.8 884 567.3 886 567.7 888 568.4 890 569.8 892 571.3 894 572.7 896 574.2 898 575.6 900 577.1 902 578.3 904 578.2 906 578.0 908 577.9 910 577.8 912 577.6 914 577.5 916 577.4 918 577.2 920 577.1 922 577.0 924 576.8 926 576.7 928 576.6 930 576.4 932 576.3 934 576.2 936 576.0 938 575.9 940 575.9 942 576.6 944 577.4 946 578.1 948 578.9 950 579.6 952 580.4 954 581.1 956 581.9 958 582.6 960 583.4 962 584.1 964 584.4 966 584.6 968 584.9 970 585.2 972 585.5 974 585.8 976 586.0 978 586.3 980 586.6 982 586.9 984 587.2 986 587.5 988 587.7 990 588.0 992 588.3 994 588.4M590 534.9 592 535.2 594 535.8 596 536.4 598 537.0 600 537.5 602 538.1 604 538.7 606 536.8M608 534.2 610 534.8 612 535.4 614 535.9 616 536.5 618 537.1 620 537.6 622 538.2 624 538.8 626 539.3 628 539.9 630 540.5 632 541.1 634 541.6 636 542.2 638 542.8 640 543.3 642 543.9 644 544.5 646 545.0 648 545.6 650 546.2 652 546.8 654 547.3 656 547.9 658 548.5 660 549.0 662 549.6 664 550.2 666 548.6M668 546.0 670 545.4 672 546.0 674 546.7 676 547.3 678 547.9 680 548.5 682 549.1 684 549.7 686 550.3 688 550.9 690 551.6 692 552.2 694 552.8 696 553.4 698 554.0 700 554.6 702 554.7M704 551.5M706 548.3M708 545.7 710 546.2 712 546.8 714 547.3 716 547.8 718 548.4 720 548.9 722 549.4 724 549.9 726 550.5 728 551.0 730 551.5 732 552.1 734 552.6 736 553.1 738 553.7 740 554.2 742 554.7 744 555.2 746 555.8 748 556.3 750 556.4 752 554.4 754 552.4 756 550.7 758 551.3 760 551.8 762 552.3 764 552.9 766 553.4 768 553.9 770 554.5 772 555.0 774 555.5 776 556.1 778 556.6 780 557.1 782 557.7 784 558.2 786 558.7 788 559.3 790 559.8 792 560.3 794 560.9 796 561.4 798 561.8 800 561.5 802 561.2 804 560.9 806 560.6 808 560.3 810 560.0 812 559.7 814 559.4 816 559.1 818 558.8 820 558.5 822 558.2 824 558.5 826 559.1 828 559.7 830 560.3 832 560.9 834 561.5 836 562.1 838 562.7 840 563.2 842 563.8 844 564.4 846 565.0 848 565.6 850 566.2 852 566.7 854 567.2 856 567.7 858 568.2 860 568.6 862 569.1 864 569.6 866 570.1 868 570.6 870 571.1 872 571.6 874 572.1 876 572.5 878 573.0 880 573.5 882 574.0 884 574.5 886 575.0 888 575.6 890 577.1 892 578.5 894 580.0 896 581.4 898 582.9 900 584.4 902 585.6 904 585.4 906 585.3 908 585.2 910 585.0 912 584.9 914 584.8 916 584.7 918 584.5 920 584.4 922 584.3 924 584.1 926 584.0 928 583.9 930 583.7 932 583.6 934 583.5 936 583.3 938 583.2 940 583.2 942 584.0 944 584.7 946 585.5 948 586.2 950 587.0 952 587.7 954 588.5 956 589.2 958 590.0 960 590.7 962 591.4 964 591.7 966 592.0 968 592.3 970 592.6 972 592.9 974 593.1 976 593.4 978 593.7 980 594.0 982 594.3 984 594.6 986 594.8 988 595.1 990 595.4 992 595.7 994 595.8M590 541.1 592 541.5 594 542.1 596 542.7 598 543.2 600 543.8 602 544.4 604 545.0 606 543.1M608 540.5 610 541.1 612 541.6 614 542.2 616 542.8 618 543.4 620 543.9 622 544.5 624 545.1 626 545.7 628 546.2 630 546.8 632 547.4 634 547.9 636 548.5 638 549.1 640 549.7 642 550.2 644 550.8 646 551.4 648 552.0 650 552.5 652 553.1 654 553.7 656 554.3 658 554.8 660 555.4 662 556.0 664 556.5 666 555.0M668 552.3 670 551.8 672 552.4 674 553.0 676 553.7 678 554.3 680 554.9 682 555.5 684 556.1 686 556.7 688 557.3 690 558.0 692 558.6 694 559.2 696 559.8 698 560.4 700 561.0 702 561.1M704 557.9M706 554.7M708 552.1 710 552.7 712 553.2 714 553.7 716 554.3 718 554.8 720 555.3 722 555.9 724 556.4 726 556.9 728 557.5 730 558.0 732 558.5 734 559.1 736 559.6 738 560.1 740 560.7 742 561.2 744 561.7 746 562.3 748 562.8 750 562.9 752 560.9 754 558.9 756 557.3 758 557.8 760 558.4 762 558.9 764 559.5 766 560.0 768 560.6 770 561.1 772 561.6 774 562.2 776 562.7 778 563.3 780 563.8 782 564.4 784 564.9 786 565.5 788 566.0 790 566.6 792 567.1 794 567.7 796 568.2 798 568.6 800 568.4 802 568.1 804 567.8 806 567.5 808 567.2 810 566.9 812 566.6 814 566.4 816 566.1 818 565.8 820 565.5 822 565.2 824 565.5 826 566.1 828 566.7 830 567.3 832 567.9 834 568.6 836 569.2 838 569.8 840 570.4 842 571.0 844 571.6 846 572.2 848 572.8 850 573.4 852 573.9 854 574.4 856 574.9 858 575.4 860 575.9 862 576.3 864 576.8 866 577.3 868 577.8 870 578.3 872 578.8 874 579.3 876 579.8 878 580.3 880 580.8 882 581.3 884 581.7 886 582.2 888 582.9 890 584.3 892 585.8 894 587.3 896 588.7 898 590.2 900 591.6 902 592.8 904 592.7 906 592.6 908 592.5 910 592.3 912 592.2 914 592.1 916 591.9 918 591.8 920 591.7 922 591.6 924 591.4 926 591.3 928 591.2 930 591.0 932 590.9 934 590.8 936 590.7 938 590.5 940 590.5 942 591.3 944 592.0 946 592.8 948 593.6 950 594.3 952 595.1 954 595.8 956 596.6 958 597.3 960 598.1 962 598.8 964 599.1 966 599.4 968 599.7 970 599.9 972 600.2 974 600.5 976 600.8 978 601.1 980 601.4 982 601.7 984 601.9 986 602.2 988 602.5 990 602.8 992 603.1 994 603.2M590 547.4 592 547.8 594 548.3 596 548.9 598 549.5 600 550.1 602 550.6 604 551.2 606 549.4M608 546.8 610 547.3 612 547.9 614 548.5 616 549.1 618 549.7 620 550.2 622 550.8 624 551.4 626 552.0 628 552.5 630 553.1 632 553.7 634 554.3 636 554.8 638 555.4 640 556.0 642 556.6 644 557.1 646 557.7 648 558.3 650 558.9 652 559.5 654 560.0 656 560.6 658 561.2 660 561.8 662 562.3 664 562.9 666 561.4M668 558.7 670 558.2 672 558.8 674 559.4 676 560.0 678 560.7 680 561.3 682 561.9 684 562.5 686 563.1 688 563.7 690 564.4 692 565.0 694 565.6 696 566.2 698 566.8 700 567.5 702 567.5M704 564.3M706 561.2M708 558.6 710 559.1 712 559.6 714 560.2 716 560.7 718 561.3 720 561.8 722 562.3 724 562.9 726 563.4 728 563.9 730 564.5 732 565.0 734 565.5 736 566.1 738 566.6 740 567.1 742 567.7 744 568.2 746 568.8 748 569.3 750 569.4 752 567.4 754 565.4 756 563.8 758 564.4 760 564.9 762 565.5 764 566.1 766 566.6 768 567.2 770 567.7 772 568.3 774 568.9 776 569.4 778 570.0 780 570.5 782 571.1 784 571.7 786 572.2 788 572.8 790 573.4 792 573.9 794 574.5 796 575.0 798 575.5 800 575.2 802 574.9 804 574.7 806 574.4 808 574.1 810 573.8 812 573.6 814 573.3 816 573.0 818 572.8 820 572.5 822 572.2 824 572.5 826 573.2 828 573.8 830 574.4 832 575.0 834 575.6 836 576.3 838 576.9 840 577.5 842 578.1 844 578.8 846 579.4 848 580.0 850 580.6 852 581.1 854 581.6 856 582.1 858 582.6 860 583.1 862 583.6 864 584.1 866 584.6 868 585.0 870 585.5 872 586.0 874 586.5 876 587.0 878 587.5 880 588.0 882 588.5 884 589.0 886 589.5 888 590.1 890 591.6 892 593.1 894 594.5 896 596.0 898 597.4 900 598.9 902 600.1 904 600.0 906 599.9 908 599.7 910 599.6 912 599.5 914 599.4 916 599.2 918 599.1 920 599.0 922 598.9 924 598.7 926 598.6 928 598.5 930 598.4 932 598.2 934 598.1 936 598.0 938 597.9 940 597.9 942 598.6 944 599.4 946 600.1 948 600.9 950 601.7 952 602.4 954 603.2 956 603.9 958 604.7 960 605.5 962 606.1 964 606.4 966 606.7 968 607.0 970 607.3 972 607.6 974 607.9 976 608.2 978 608.5 980 608.8 982 609.0 984 609.3 986 609.6 988 609.9 990 610.2 992 610.5 994 610.6M590 553.6 592 554.0 594 554.6 596 555.2 598 555.7 600 556.3 602 556.9 604 557.5 606 555.6M608 553.0 610 553.6 612 554.2 614 554.8 616 555.4 618 555.9 620 556.5 622 557.1 624 557.7 626 558.3 628 558.8 630 559.4 632 560.0 634 560.6 636 561.2 638 561.7 640 562.3 642 562.9 644 563.5 646 564.1 648 564.6 650 565.2 652 565.8 654 566.4 656 567.0 658 567.5 660 568.1 662 568.7 664 569.3 666 567.7M668 565.1 670 564.6 672 565.2 674 565.8 676 566.4 678 567.0 680 567.7 682 568.3 684 568.9 686 569.5 688 570.2 690 570.8 692 571.4 694 572.0 696 572.6 698 573.3 700 573.9 702 573.9M704 570.8M706 567.6M708 565.0 710 565.5 712 566.1 714 566.6 716 567.2 718 567.7 720 568.2 722 568.8 724 569.3 726 569.9 728 570.4 730 570.9 732 571.5 734 572.0 736 572.6 738 573.1 740 573.6 742 574.2 744 574.7 746 575.3 748 575.8 750 576.0 752 574.0 754 572.0 756 570.4 758 570.9 760 571.5 762 572.1 764 572.7 766 573.2 768 573.8 770 574.4 772 575.0 774 575.5 776 576.1 778 576.7 780 577.3 782 577.8 784 578.4 786 579.0 788 579.6 790 580.1 792 580.7 794 581.3 796 581.9 798 582.3 800 582.1 802 581.8 804 581.5 806 581.3 808 581.0 810 580.8 812 580.5 814 580.3 816 580.0 818 579.7 820 579.5 822 579.2 824 579.6 826 580.2 828 580.8 830 581.5 832 582.1 834 582.7 836 583.4 838 584.0 840 584.6 842 585.3 844 585.9 846 586.6 848 587.2 850 587.8 852 588.3 854 588.8 856 589.3 858 589.8 860 590.3 862 590.8 864 591.3 866 591.8 868 592.3 870 592.8 872 593.3 874 593.8 876 594.3 878 594.8 880 595.3 882 595.7 884 596.2 886 596.7 888 597.4 890 598.8 892 600.3 894 601.8 896 603.2 898 604.7 900 606.2 902 607.4 904 607.3 906 607.1 908 607.0 910 606.9 912 606.8 914 606.7 916 606.5 918 606.4 920 606.3 922 606.2 924 606.0 926 605.9 928 605.8 930 605.7 932 605.5 934 605.4 936 605.3 938 605.2 940 605.2 942 606.0 944 606.7 946 607.5 948 608.2 950 609.0 952 609.8 954 610.5 956 611.3 958 612.0 960 612.8 962 613.5 964 613.8 966 614.1 968 614.4 970 614.7 972 615.0 974 615.3 976 615.6 978 615.8 980 616.1 982 616.4 984 616.7 986 617.0 988 617.3 990 617.6 992 617.9 994 618.0M590 559.9 592 560.3 594 560.8 596 561.4 598 562.0 600 562.6 602 563.2 604 563.8 606 561.9M608 559.3 610 559.9 612 560.5 614 561.1 616 561.7 618 562.2 620 562.8 622 563.4 624 564.0 626 564.6 628 565.2 630 565.7 632 566.3 634 566.9 636 567.5 638 568.1 640 568.6 642 569.2 644 569.8 646 570.4 648 571.0 650 571.6 652 572.1 654 572.7 656 573.3 658 573.9 660 574.5 662 575.1 664 575.6 666 574.1M668 571.5 670 570.9 672 571.6 674 572.2 676 572.8 678 573.4 680 574.1 682 574.7 684 575.3 686 575.9 688 576.6 690 577.2 692 577.8 694 578.4 696 579.1 698 579.7 700 580.3 702 580.4M704 577.2M706 574.0M708 571.4 710 572.0 712 572.5 714 573.1 716 573.6 718 574.2 720 574.7 722 575.2 724 575.8 726 576.3 728 576.9 730 577.4 732 577.9 734 578.5 736 579.0 738 579.6 740 580.1 742 580.7 744 581.2 746 581.7 748 582.3 750 582.5 752 580.5 754 578.5 756 576.9 758 577.5 760 578.1 762 578.7 764 579.3 766 579.9 768 580.4 770 581.0 772 581.6 774 582.2 776 582.8 778 583.4 780 584.0 782 584.6 784 585.2 786 585.7 788 586.3 790 586.9 792 587.5 794 588.1 796 588.7 798 589.1 800 588.9 802 588.7 804 588.4 806 588.2 808 587.9 810 587.7 812 587.4 814 587.2 816 587.0 818 586.7 820 586.5 822 586.2 824 586.6 826 587.2 828 587.9 830 588.5 832 589.2 834 589.8 836 590.5 838 591.1 840 591.8 842 592.4 844 593.1 846 593.7 848 594.4 850 595.0 852 595.5 854 596.0 856 596.5 858 597.0 860 597.5 862 598.0 864 598.5 866 599.0 868 599.5 870 600.0 872 600.5 874 601.0 876 601.5 878 602.0 880 602.5 882 603.0 884 603.5 886 604.0 888 604.6 890 606.1 892 607.6 894 609.0 896 610.5 898 612.0 900 613.4 902 614.7 904 614.5 906 614.4 908 614.3 910 614.2 912 614.1 914 613.9 916 613.8 918 613.7 920 613.6 922 613.5 924 613.3 926 613.2 928 613.1 930 613.0 932 612.9 934 612.7 936 612.6 938 612.5 940 612.5 942 613.3 944 614.0 946 614.8 948 615.6 950 616.3 952 617.1 954 617.9 956 618.6 958 619.4 960 620.2 962 620.9 964 621.2 966 621.5 968 621.7 970 622.0 972 622.3 974 622.6 976 622.9 978 623.2 980 623.5 982 623.8 984 624.1 986 624.4 988 624.7 990 625.0 992 625.3 994 625.4M590 566.1 592 566.5 594 567.1 596 567.7 598 568.3 600 568.9 602 569.4 604 570.0 606 568.2M608 565.6 610 566.2 612 566.8 614 567.4 616 567.9 618 568.5 620 569.1 622 569.7 624 570.3 626 570.9 628 571.5 630 572.0 632 572.6 634 573.2 636 573.8 638 574.4 640 575.0 642 575.6 644 576.1 646 576.7 648 577.3 650 577.9 652 578.5 654 579.1 656 579.7 658 580.2 660 580.8 662 581.4 664 582.0 666 580.5M668 577.8 670 577.3 672 577.9 674 578.6 676 579.2 678 579.8 680 580.4 682 581.1 684 581.7 686 582.3 688 583.0 690 583.6 692 584.2 694 584.8 696 585.5 698 586.1 700 586.7 702 586.8M704 583.6M706 580.5M708 577.9 710 578.4 712 579.0 714 579.5 716 580.1 718 580.6 720 581.1 722 581.7 724 582.2 726 582.8 728 583.3 730 583.9 732 584.4 734 585.0 736 585.5 738 586.1 740 586.6 742 587.1 744 587.7 746 588.2 748 588.8 750 589.0 752 587.0 754 585.0 756 583.4 758 584.1 760 584.7 762 585.3 764 585.9 766 586.5 768 587.1 770 587.7 772 588.3 774 588.9 776 589.5 778 590.1 780 590.7 782 591.3 784 591.9 786 592.5 788 593.1 790 593.7 792 594.3 794 594.9 796 595.5 798 596.0 800 595.8 802 595.5 804 595.3 806 595.1 808 594.8 810 594.6 812 594.4 814 594.2 816 593.9 818 593.7 820 593.5 822 593.2 824 593.6 826 594.3 828 594.9 830 595.6 832 596.2 834 596.9 836 597.6 838 598.2 840 598.9 842 599.6 844 600.2 846 600.9 848 601.6 850 602.2 852 602.7 854 603.2 856 603.7 858 604.2 860 604.7 862 605.2 864 605.7 866 606.2 868 606.7 870 607.2 872 607.7 874 608.2 876 608.7 878 609.2 880 609.7 882 610.2 884 610.7 886 611.2 888 611.9 890 613.4 892 614.8 894 616.3 896 617.8 898 619.2 900 620.7 902 621.9 904 621.8 906 621.7 908 621.6 910 621.5 912 621.4 914 621.2 916 621.1 918 621.0 920 620.9 922 620.8 924 620.6 926 620.5 928 620.4 930 620.3 932 620.2 934 620.1 936 619.9 938 619.8 940 619.8 942 620.6 944 621.4 946 622.1 948 622.9 950 623.7 952 624.4 954 625.2 956 626.0 958 626.8 960 627.5 962 628.2 964 628.5 966 628.8 968 629.1 970 629.4 972 629.7 974 630.0 976 630.3 978 630.6 980 630.9 982 631.2 984 631.5 986 631.8 988 632.1 990 632.4 992 632.7 994 632.8M590 572.4 592 572.8 594 573.4 596 573.9 598 574.5 600 575.1 602 575.7 604 576.3 606 574.5M608 571.9 610 572.5 612 573.1 614 573.6 616 574.2 618 574.8 620 575.4 622 576.0 624 576.6 626 577.2 628 577.8 630 578.4 632 578.9 634 579.5 636 580.1 638 580.7 640 581.3 642 581.9 644 582.5 646 583.1 648 583.7 650 584.2 652 584.8 654 585.4 656 586.0 658 586.6 660 587.2 662 587.8 664 588.4 666 586.9M668 584.2 670 583.7 672 584.3 674 584.9 676 585.6 678 586.2 680 586.8 682 587.5 684 588.1 686 588.7 688 589.4 690 590.0 692 590.6 694 591.3 696 591.9 698 592.5 700 593.1 702 593.2M704 590.1M706 586.9M708 584.3 710 584.9 712 585.4 714 586.0 716 586.5 718 587.1 720 587.6 722 588.1 724 588.7 726 589.2 728 589.8 730 590.3 732 590.9 734 591.4 736 592.0 738 592.5 740 593.1 742 593.6 744 594.2 746 594.7 748 595.3 750 595.5 752 593.5 754 591.6 756 590.0 758 590.6 760 591.2 762 591.8 764 592.5 766 593.1 768 593.7 770 594.3 772 594.9 774 595.5 776 596.2 778 596.8 780 597.4 782 598.0 784 598.6 786 599.2 788 599.9 790 600.5 792 601.1 794 601.7 796 602.3 798 602.8 800 602.6 802 602.4 804 602.2 806 602.0 808 601.8 810 601.5 812 601.3 814 601.1 816 600.9 818 600.7 820 600.5 822 600.2 824 600.6 826 601.3 828 602.0 830 602.6 832 603.3 834 604.0 836 604.7 838 605.4 840 606.0 842 606.7 844 607.4 846 608.1 848 608.8 850 609.4 852 609.9 854 610.4 856 610.9 858 611.4 860 611.9 862 612.4 864 612.9 866 613.4 868 614.0 870 614.5 872 615.0 874 615.5 876 616.0 878 616.5 880 617.0 882 617.5 884 618.0 886 618.5 888 619.1 890 620.6 892 622.1 894 623.6 896 625.0 898 626.5 900 628.0 902 629.2 904 629.1 906 629.0 908 628.9 910 628.8 912 628.6 914 628.5 916 628.4 918 628.3 920 628.2 922 628.1 924 628.0 926 627.8 928 627.7 930 627.6 932 627.5 934 627.4 936 627.3 938 627.1 940 627.2 942 627.9 944 628.7 946 629.5 948 630.2 950 631.0 952 631.8 954 632.6 956 633.3 958 634.1 960 634.9 962 635.6 964 635.9 966 636.2 968 636.5 970 636.8 972 637.1 974 637.4 976 637.7 978 638.0 980 638.3 982 638.6 984 638.9 986 639.2 988 639.5 990 639.8 992 640.1 994 640.2"/></g>
</g></g>
<g clip-path="url(#ctop)"><g mask="url(#mwr)" filter="url(#bl)" fill="none"><use href="#bp" stroke="#fffaf4" stroke-width="3.4" stroke-opacity="0.6"/></g></g>
<rect x="603.5" y="475.5" width="8.0" height="96.1" fill="#5a0804" opacity="0.60" clip-path="url(#ctop)"/>
<rect x="663.5" y="475.5" width="7.0" height="96.1" fill="#5a0804" opacity="0.55" clip-path="url(#ctop)"/>
<rect x="700.5" y="475.5" width="9.0" height="96.1" fill="#5a0804" opacity="0.50" clip-path="url(#ctop)"/>
<rect x="749.0" y="475.5" width="8.0" height="96.1" fill="#5a0804" opacity="0.35" clip-path="url(#ctop)"/>
<g mask="url(#mnzd)"><rect x="591.3" y="475.5" width="401.7" height="96.1" filter="url(#nzd)" opacity="0.6"/></g>
<g mask="url(#mnzl)"><rect x="591.3" y="475.5" width="401.7" height="96.1" filter="url(#nzl)" opacity="0.45"/></g>
<path d="M738 503.3H928" stroke="#5a0804" stroke-width="2" opacity="0.85"/>
<path d="M591.3 503.5H738" stroke="#f4a060" stroke-width="1" opacity="0.5"/>
<path d="M897 508.3H993" stroke="#e07020" stroke-width="1.2" opacity="0.6"/>
<rect x="591.3" y="655.5" width="401.7" height="82.8" fill="url(#bot)"/>
<g clip-path="url(#cbot)" filter="url(#bl2)" stroke="#8a1406" stroke-linecap="round">
<path d="M740 660L742 708" stroke-opacity="0.69" stroke-width="6.2"/>
<path d="M753 662L773 667" stroke-opacity="0.98" stroke-width="7.5"/>
<path d="M755 677L773 680" stroke-opacity="0.86" stroke-width="6.2"/>
<path d="M754 687L773 692" stroke-opacity="0.98" stroke-width="7.5"/>
<path d="M758 699L767 705" stroke-opacity="0.80" stroke-width="6.2"/>
<path d="M780 671L810 687" stroke-opacity="0.98" stroke-width="7.5"/>
<path d="M781 684L795 687" stroke-opacity="0.69" stroke-width="5.0"/>
<path d="M780 696L795 702" stroke-opacity="0.86" stroke-width="6.2"/>
<path d="M803 657L834 686" stroke-opacity="0.80" stroke-width="5.0"/>
<path d="M829 657L848 667" stroke-opacity="0.69" stroke-width="5.0"/>
<path d="M783 659L796 662" stroke-opacity="0.57" stroke-width="5.0"/>
<path d="M694 659L700 668" stroke-opacity="0.57" stroke-width="6.2"/>
<path d="M716 660L722 670" stroke-opacity="0.46" stroke-width="6.2"/>
<path d="M735 662L741 674" stroke-opacity="0.40" stroke-width="6.2"/>
<path d="M852 657L874 676" stroke-opacity="0.40" stroke-width="5.0"/>
<path d="M880 656L902 672" stroke-opacity="0.34" stroke-width="5.0"/>
</g>
<g clip-path="url(#cbot)" filter="url(#bl2)" fill="none" stroke-linecap="round"><path d="M900 659H970" stroke="#f8c090" stroke-width="10" opacity="0.6"/><path d="M843 660L872 680M866 656L888 672M895 656L912 668M920 657L940 667" stroke="#e8681a" stroke-width="5" opacity="0.55"/></g>
<g mask="url(#mnzb)"><rect x="591.3" y="655.5" width="401.7" height="82.8" filter="url(#nzb)" opacity="0.4"/></g>
<g mask="url(#mnzbl)"><rect x="591.3" y="655.5" width="401.7" height="82.8" filter="url(#nzbl)" opacity="0.28"/></g>
<text x="564.6" y="431.8" font-size="11.8" textLength="162.8" lengthAdjust="spacing" font-family="Liberation Serif" fill="#2a2a2a" stroke="#2a2a2a" stroke-width="0.3">OSRA-Tremsdorf-Germany</text>
<text x="564.6" y="448.2" font-size="11.8" textLength="134.8" lengthAdjust="spacing" font-family="Liberation Serif" fill="#2a2a2a" stroke="#2a2a2a" stroke-width="0.3">Event date: 25.10.200*</text>
<defs><linearGradient id="cbar" x1="0" y1="0" x2="1" y2="0"><stop offset="0.00" stop-color="#ffffff"/><stop offset="0.10" stop-color="#fff4ea"/><stop offset="0.20" stop-color="#fde0c0"/><stop offset="0.30" stop-color="#f9b878"/><stop offset="0.40" stop-color="#f48a24"/><stop offset="0.50" stop-color="#e06010"/><stop offset="0.60" stop-color="#b83008"/><stop offset="0.70" stop-color="#8c1008"/><stop offset="0.80" stop-color="#600808"/><stop offset="0.90" stop-color="#380404"/><stop offset="1.00" stop-color="#100000"/></linearGradient></defs>
<rect x="781.6" y="419.8" width="211.4" height="8.8" fill="url(#cbar)" stroke="#666" stroke-width="0.6"/>
<path d="M781.6 428.6v-3.0M792.2 428.6v-2.0M802.7 428.6v-3.0M813.3 428.6v-2.0M823.9 428.6v-3.0M834.5 428.6v-2.0M845.0 428.6v-3.0M855.6 428.6v-2.0M866.2 428.6v-3.0M876.7 428.6v-2.0M887.3 428.6v-3.0M897.9 428.6v-2.0M908.4 428.6v-3.0M919.0 428.6v-2.0M929.6 428.6v-3.0M940.2 428.6v-2.0M950.7 428.6v-3.0M961.3 428.6v-2.0M971.9 428.6v-3.0M982.4 428.6v-2.0M993.0 428.6v-3.0" stroke="#666" stroke-width="0.6"/>
<text x="781.6" y="437.6" font-size="6.2" text-anchor="middle" font-family="Liberation Sans" fill="#777">0</text>
<text x="802.7" y="437.6" font-size="6.2" text-anchor="middle" font-family="Liberation Sans" fill="#777">10</text>
<text x="823.9" y="437.6" font-size="6.2" text-anchor="middle" font-family="Liberation Sans" fill="#777">20</text>
<text x="845.0" y="437.6" font-size="6.2" text-anchor="middle" font-family="Liberation Sans" fill="#777">30</text>
<text x="866.2" y="437.6" font-size="6.2" text-anchor="middle" font-family="Liberation Sans" fill="#777">40</text>
<text x="887.3" y="437.6" font-size="6.2" text-anchor="middle" font-family="Liberation Sans" fill="#777">50</text>
<text x="908.4" y="437.6" font-size="6.2" text-anchor="middle" font-family="Liberation Sans" fill="#777">60</text>
<text x="929.6" y="437.6" font-size="6.2" text-anchor="middle" font-family="Liberation Sans" fill="#777">70</text>
<text x="950.7" y="437.6" font-size="6.2" text-anchor="middle" font-family="Liberation Sans" fill="#777">80</text>
<text x="971.9" y="437.6" font-size="6.2" text-anchor="middle" font-family="Liberation Sans" fill="#777">90</text>
<text x="993.0" y="437.6" font-size="6.2" text-anchor="middle" font-family="Liberation Sans" fill="#777">100</text>
<text x="834.5" y="446" font-size="8.5" textLength="104.2" lengthAdjust="spacingAndGlyphs" font-family="Liberation Sans" fill="#777">Log(Intensity) [arb. units]</text>
<text x="787.5" y="460.6" font-size="6" textLength="8.4" lengthAdjust="spacingAndGlyphs" font-family="Liberation Serif" font-weight="bold" fill="#222">UT</text>
<text x="635.5" y="467" font-size="6.5" textLength="32.3" lengthAdjust="spacingAndGlyphs" font-family="Liberation Serif" font-weight="bold" fill="#222">10: 8:20.0</text>
<text x="735.8" y="467" font-size="6.5" textLength="32.3" lengthAdjust="spacingAndGlyphs" font-family="Liberation Serif" font-weight="bold" fill="#222">10: 8:30.0</text>
<text x="836.5" y="467" font-size="6.5" textLength="32.3" lengthAdjust="spacingAndGlyphs" font-family="Liberation Serif" font-weight="bold" fill="#222">10: 8:40.0</text>
<text x="936.9" y="467" font-size="6.5" textLength="32.3" lengthAdjust="spacingAndGlyphs" font-family="Liberation Serif" font-weight="bold" fill="#222">10: 8:50.0</text>
<path d="M591.3 474.8H993.1V738.6H591.3V474.8M591.4 474.8v-2.6M601.4 474.8v-2.6M611.4 474.8v-2.6M621.5 474.8v-2.6M631.5 474.8v-2.6M641.6 474.8v-2.6M651.6 474.8v-5.0M661.6 474.8v-2.6M671.7 474.8v-2.6M681.7 474.8v-2.6M691.8 474.8v-2.6M701.8 474.8v-2.6M711.8 474.8v-2.6M721.9 474.8v-2.6M731.9 474.8v-2.6M742.0 474.8v-2.6M752.0 474.8v-5.0M762.0 474.8v-2.6M772.1 474.8v-2.6M782.1 474.8v-2.6M792.2 474.8v-2.6M802.2 474.8v-2.6M812.2 474.8v-2.6M822.3 474.8v-2.6M832.3 474.8v-2.6M842.4 474.8v-2.6M852.4 474.8v-5.0M862.4 474.8v-2.6M872.5 474.8v-2.6M882.5 474.8v-2.6M892.6 474.8v-2.6M902.6 474.8v-2.6M912.6 474.8v-2.6M922.7 474.8v-2.6M932.7 474.8v-2.6M942.8 474.8v-2.6M952.8 474.8v-5.0M962.8 474.8v-2.6M972.9 474.8v-2.6M982.9 474.8v-2.6M993.0 474.8v-2.6M591.3 738.6v5.5M601.3 738.6v2.8M611.4 738.6v2.8M621.4 738.6v2.8M631.5 738.6v2.8M641.5 738.6v2.8M651.5 738.6v2.8M661.6 738.6v2.8M671.6 738.6v2.8M681.7 738.6v2.8M691.7 738.6v5.5M701.7 738.6v2.8M711.8 738.6v2.8M721.8 738.6v2.8M731.9 738.6v2.8M741.9 738.6v2.8M751.9 738.6v2.8M762.0 738.6v2.8M772.0 738.6v2.8M782.1 738.6v2.8M792.1 738.6v5.5M802.1 738.6v2.8M812.2 738.6v2.8M822.2 738.6v2.8M832.3 738.6v2.8M842.3 738.6v2.8M852.3 738.6v2.8M862.4 738.6v2.8M872.4 738.6v2.8M882.5 738.6v2.8M892.5 738.6v5.5M902.5 738.6v2.8M912.6 738.6v2.8M922.6 738.6v2.8M932.7 738.6v2.8M942.7 738.6v2.8M952.7 738.6v2.8M962.8 738.6v2.8M972.8 738.6v2.8M982.9 738.6v2.8M992.9 738.6v5.5M591.3 475.3h-2.5M993.1 475.3h2.5M591.3 489.2h-4.4M993.1 489.2h4.4M591.3 503.1h-2.5M993.1 503.1h2.5M591.3 517.0h-2.5M993.1 517.0h2.5M591.3 530.9h-2.5M993.1 530.9h2.5M591.3 544.8h-4.4M993.1 544.8h4.4M591.3 558.7h-2.5M993.1 558.7h2.5M591.3 572.6h-2.5M993.1 572.6h2.5M591.3 586.5h-2.5M993.1 586.5h2.5M591.3 600.4h-4.4M993.1 600.4h4.4M591.3 614.3h-2.5M993.1 614.3h2.5M591.3 628.2h-2.5M993.1 628.2h2.5M591.3 642.1h-2.5M993.1 642.1h2.5M591.3 656.0h-4.4M993.1 656.0h4.4M591.3 669.9h-2.5M993.1 669.9h2.5M591.3 683.8h-2.5M993.1 683.8h2.5M591.3 697.7h-2.5M993.1 697.7h2.5M591.3 711.6h-4.4M993.1 711.6h4.4M591.3 725.5h-2.5M993.1 725.5h2.5" fill="none" stroke="#444" stroke-width="0.8"/>
<text x="573.8" y="491.6" font-size="7" textLength="11" lengthAdjust="spacingAndGlyphs" font-family="Liberation Serif" font-weight="bold" fill="#222">140</text>
<text x="573.8" y="547.2" font-size="7" textLength="11" lengthAdjust="spacingAndGlyphs" font-family="Liberation Serif" font-weight="bold" fill="#222">160</text>
<text x="573.8" y="602.8" font-size="7" textLength="11" lengthAdjust="spacingAndGlyphs" font-family="Liberation Serif" font-weight="bold" fill="#222">180</text>
<text x="573.8" y="658.4" font-size="7" textLength="11" lengthAdjust="spacingAndGlyphs" font-family="Liberation Serif" font-weight="bold" fill="#222">200</text>
<text x="573.8" y="714.0" font-size="7" textLength="11" lengthAdjust="spacingAndGlyphs" font-family="Liberation Serif" font-weight="bold" fill="#222">220</text>
<text x="583.8" y="753.6" font-size="7" textLength="15" lengthAdjust="spacingAndGlyphs" font-family="Liberation Serif" font-weight="bold" fill="#222">1290</text>
<text x="684.2" y="753.6" font-size="7" textLength="15" lengthAdjust="spacingAndGlyphs" font-family="Liberation Serif" font-weight="bold" fill="#222">1300</text>
<text x="784.6" y="753.6" font-size="7" textLength="15" lengthAdjust="spacingAndGlyphs" font-family="Liberation Serif" font-weight="bold" fill="#222">1310</text>
<text x="885.0" y="753.6" font-size="7" textLength="15" lengthAdjust="spacingAndGlyphs" font-family="Liberation Serif" font-weight="bold" fill="#222">1320</text>
<text x="985.5" y="753.6" font-size="7" textLength="15" lengthAdjust="spacingAndGlyphs" font-family="Liberation Serif" font-weight="bold" fill="#222">1330</text>
<text x="753.8" y="765.2" font-size="9" textLength="75.9" lengthAdjust="spacingAndGlyphs" font-family="Liberation Sans" fill="#777">Start time offset [s]</text>
<text x="890.5" y="765.6" font-size="6" textLength="108.2" lengthAdjust="spacingAndGlyphs" font-family="Liberation Serif" font-weight="bold" fill="#222">Created on: Wed Jun 20 14:44:35 2001</text>
<text transform="translate(571,607.7) rotate(-90)" x="0" y="0" font-size="8.8" text-anchor="middle" textLength="93.8" lengthAdjust="spacingAndGlyphs" font-family="Liberation Sans" fill="#777">Frequency [MHz], (linear)</text>
</svg></body></html>
